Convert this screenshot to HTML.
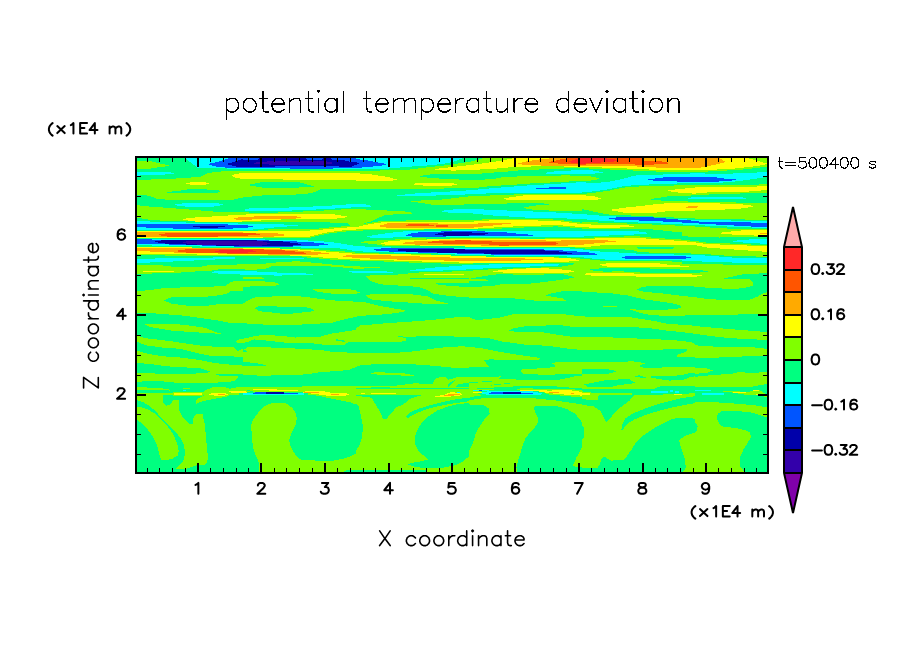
<!DOCTYPE html><html><head><meta charset="utf-8"><title>potential temperature deviation</title>
<style>html,body{margin:0;padding:0;background:#fff;font-family:"Liberation Sans",sans-serif}svg{display:block}</style></head><body>
<svg width="904" height="654" viewBox="0 0 904 654">
<rect width="904" height="654" fill="#fff"/>
<g shape-rendering="crispEdges"><clipPath id="pc"><rect x="137" y="158" width="630" height="314"/></clipPath><g clip-path="url(#pc)">
<rect x="136" y="157" width="632" height="316" fill="#00ff80"/>
<clipPath id="t1"><rect x="137" y="270" width="106" height="75"/></clipPath>
<g clip-path="url(#t1)"><rect x="137" y="270" width="106" height="75" fill="#00ff80"/>
<path fill="#80ff00" d="M137.0 291.2L148.8 290.2L161.2 288.5L180.0 287.5L196.2 287.2L215.0 288.1L225.0 286.2L230.0 282.5L236.2 281.2L243.0 280.6L243.0 287.5L236.2 288.1L231.2 288.8L228.8 293.1L221.2 295.0L205.0 296.9L171.2 297.2L163.8 300.6L171.2 303.5L186.2 305.6L208.8 305.6L216.2 304.4L243.0 303.5L243.0 322.5L227.5 322.5L215.0 320.0L195.0 317.2L180.0 315.2L161.2 314.0L151.2 313.1L137.0 312.5Z"/>
<path fill="#80ff00" d="M144.4 324.0L150.0 323.5L171.2 323.5L190.0 325.6L205.0 327.8L215.0 331.9L221.2 333.5L221.2 333.5L215.0 333.5L205.0 332.9L190.0 331.9L171.2 330.6L150.0 326.9L144.4 324.0Z"/>
<path fill="#80ff00" d="M137.0 335.6L145.0 338.1L171.2 341.2L187.5 343.8L205.0 346.2L233.8 347.5L237.5 351.0L186.2 351.0L180.0 350.0L161.2 347.5L145.0 345.0L137.0 341.9Z"/>
<path fill="#80ff00" d="M236.2 341.2L238.8 339.4L243.0 338.8L243.0 343.1L237.5 343.1Z"/>
</g>
<clipPath id="t2"><rect x="243" y="270" width="113" height="75"/></clipPath>
<g clip-path="url(#t2)"><rect x="243" y="270" width="113" height="75" fill="#00ff80"/>
<path fill="#80ff00" d="M243.0 276.9L259.2 277.2L263.6 278.5L263.6 278.5L259.2 278.8L243.0 278.8Z"/>
<path fill="#80ff00" d="M243.0 280.6L255.5 280.6L275.5 282.5L278.6 284.1L278.6 284.1L275.5 285.6L255.5 286.2L243.0 286.9Z"/>
<path fill="#80ff00" d="M312.4 289.4L318.0 288.5L333.0 288.5L349.2 289.4L356.0 289.8L356.0 294.0L349.2 294.0L333.0 293.8L318.0 291.9L312.4 289.4Z"/>
<path fill="#80ff00" d="M243.0 303.8L248.6 300.0L255.5 297.2L279.2 296.2L298.0 296.2L310.5 297.5L320.5 299.0L335.5 300.6L351.8 301.2L356.0 302.2L356.0 316.9L346.8 318.8L339.2 320.6L330.5 323.1L313.0 323.8L298.0 324.8L268.0 324.8L249.9 323.8L243.0 323.1Z"/>
<path fill="#00ff80" d="M254.9 308.1L259.2 306.2L271.8 306.2L283.0 306.9L290.5 306.9L304.2 306.9L310.5 308.1L314.2 310.2L314.2 310.2L310.5 311.9L304.2 312.2L290.5 313.8L283.0 313.8L271.8 312.5L259.2 311.2L254.9 308.1Z"/>
<path fill="#80ff00" d="M243.0 338.8L254.2 336.2L260.5 335.2L279.2 335.6L295.5 337.5L318.0 337.2L330.5 333.8L346.8 331.2L356.0 330.0L356.0 341.5L349.2 341.5L346.8 343.1L344.2 344.8L324.2 344.8L310.5 343.1L293.0 343.5L279.2 341.9L266.8 340.6L254.2 339.4L248.0 341.9L243.0 343.1Z"/>
<path fill="#00ff80" d="M336.1 339.4L343.0 339.8L346.8 342.5L341.8 341.5L336.1 340.6Z"/>
</g>
<clipPath id="t3"><rect x="356" y="270" width="113" height="75"/></clipPath>
<g clip-path="url(#t3)"><rect x="356" y="270" width="113" height="75" fill="#00ff80"/>
<path fill="#80ff00" d="M365.4 275.6L393.5 275.0L412.2 273.1L426.0 271.9L463.5 271.0L469.0 270.6L469.0 282.9L463.5 282.5L434.1 282.5L438.5 284.8L447.2 285.6L463.5 286.9L469.0 286.9L469.0 297.5L459.8 296.9L447.2 295.6L433.5 293.8L427.2 290.0L418.5 286.9L399.8 285.6L381.0 284.4L369.8 280.6Z"/>
<path fill="#00ff80" d="M409.8 278.5L412.2 278.1L469.0 278.1L469.0 279.0L412.2 279.0L409.8 278.5Z"/>
<path fill="#80ff00" d="M356.0 291.2L359.8 292.5L359.8 292.5L356.0 293.8Z"/>
<path fill="#80ff00" d="M365.4 295.6L371.0 294.4L387.2 294.4L412.2 294.4L422.2 295.6L428.5 296.5L436.0 300.6L447.9 303.5L447.9 303.5L436.0 304.4L428.5 304.4L422.2 303.5L412.2 302.8L387.2 301.2L371.0 299.4L365.4 295.6Z"/>
<path fill="#80ff00" d="M356.0 302.2L364.8 302.2L381.0 306.2L396.0 308.8L403.5 309.8L406.0 311.2L396.0 313.1L383.5 314.4L358.5 316.0L356.0 316.9Z"/>
<path fill="#80ff00" d="M356.0 328.1L361.0 325.0L374.8 324.4L387.2 323.1L412.2 321.5L431.0 320.0L453.5 317.5L469.0 316.9L469.0 336.9L453.5 336.5L431.0 336.2L423.5 336.0L411.0 336.9L396.0 336.2L406.6 338.1L406.0 340.6L399.8 342.2L379.8 342.2L356.0 341.9Z"/>
</g>
<clipPath id="t4"><rect x="469" y="270" width="113" height="75"/></clipPath>
<g clip-path="url(#t4)"><rect x="469" y="270" width="113" height="75" fill="#80ff00"/>
<path fill="#00ff80" d="M469.0 278.8L472.8 278.1L491.5 274.8L500.2 274.2L519.0 273.8L531.5 273.8L550.2 273.9L561.5 274.0L574.0 276.9L574.0 277.5L561.5 279.8L550.2 281.2L531.5 283.5L519.0 283.8L500.2 284.4L491.5 286.2L472.8 286.8L469.0 286.9Z"/>
<path fill="#80ff00" d="M469.0 279.4L485.2 279.4L489.0 280.2L489.0 280.2L485.2 281.2L469.0 281.2Z"/>
<path fill="#00ff80" d="M469.0 298.1L510.2 298.1L524.0 299.4L540.2 301.2L567.8 301.5L562.8 298.5L555.2 297.2L545.9 295.6L549.0 293.8L562.8 291.2L582.0 291.2L582.0 315.6L575.2 315.6L565.2 314.4L546.5 313.5L512.8 314.4L500.2 317.5L485.2 319.4L476.5 319.8L472.8 318.8L469.0 316.9Z"/>
<path fill="#00ff80" d="M508.4 330.6L514.0 328.1L524.0 326.5L544.0 325.6L559.0 325.0L572.8 326.9L582.0 326.9L582.0 337.2L572.8 336.9L559.0 335.0L544.0 332.5L524.0 331.9L514.0 331.5L508.4 330.6Z"/>
<path fill="#00ff80" d="M469.0 336.9L475.2 337.2L489.0 338.1L500.2 341.2L519.0 343.8L531.5 345.6L549.0 346.0L569.0 348.8L582.0 350.0L582.0 351.0L469.0 351.0Z"/>
<path fill="#80ff00" d="M469.0 346.9L481.5 348.1L489.0 350.0L490.2 351.0L469.0 351.0Z"/>
</g>
<clipPath id="t5"><rect x="582" y="270" width="113" height="75"/></clipPath>
<g clip-path="url(#t5)"><rect x="582" y="270" width="113" height="75" fill="#80ff00"/>
<path fill="#00ff80" d="M637.0 289.4L640.8 287.5L648.2 286.2L663.2 286.0L679.5 286.0L692.0 286.0L695.0 286.9L695.0 297.5L692.0 296.9L679.5 295.6L663.2 293.5L648.2 292.2L640.8 291.2L637.0 289.4Z"/>
<path fill="#00ff80" d="M582.0 291.9L597.0 292.5L613.2 293.5L628.2 295.6L644.5 299.4L663.2 301.9L673.2 303.5L680.8 305.6L682.0 307.2L674.5 309.4L652.0 309.8L630.1 309.4L638.2 312.2L647.0 314.4L659.5 315.6L683.2 315.6L695.0 315.0L695.0 326.0L689.5 325.2L667.0 323.8L657.0 321.5L644.5 319.4L629.5 317.2L589.5 316.9L582.0 316.2Z"/>
<path fill="#80ff00" d="M603.2 306.4L604.5 306.0L615.8 306.0L617.0 306.4L617.0 306.4L615.8 306.9L604.5 306.9L603.2 306.4Z"/>
<path fill="#00ff80" d="M582.0 326.9L613.2 327.0L634.5 327.2L652.0 328.5L667.0 330.6L682.0 332.2L692.0 333.1L695.0 334.0L695.0 343.8L692.0 342.5L682.0 340.9L667.0 339.8L652.0 339.1L634.5 338.4L613.2 337.5L582.0 336.9Z"/>
</g>
<clipPath id="t6"><rect x="695" y="270" width="73" height="75"/></clipPath>
<g clip-path="url(#t6)"><rect x="695" y="270" width="73" height="75" fill="#80ff00"/>
<path fill="#00ff80" d="M723.9 278.5L742.0 274.4L767.0 273.1L768.2 273.1L768.2 291.9L763.2 293.1L757.0 296.9L749.5 299.8L719.5 299.8L704.5 298.5L692.0 296.9L682.0 295.6L682.0 285.6L692.0 286.2L704.5 287.5L722.0 288.5L739.5 288.5L749.5 286.9L752.6 285.6L753.2 283.8L752.6 281.9L749.5 278.8Z"/>
<path fill="#00ff80" d="M682.0 315.6L689.5 315.5L710.8 315.0L738.2 314.5L757.0 314.0L768.2 313.8L768.2 332.5L757.0 331.2L738.2 329.8L710.8 327.5L689.5 325.6L682.0 325.0Z"/>
<path fill="#00ff80" d="M695.0 333.8L702.0 334.8L710.8 336.0L724.5 337.5L740.8 338.8L749.5 339.2L768.2 340.0L768.2 349.0L749.5 348.1L740.8 347.2L724.5 346.5L710.8 346.2L702.0 346.0L695.0 344.8Z"/>
</g>
<clipPath id="t7"><rect x="137" y="345" width="106" height="50"/></clipPath>
<g clip-path="url(#t7)"><rect x="137" y="345" width="106" height="50" fill="#80ff00"/>
<path fill="#00ff80" d="M137.0 341.9L147.5 345.6L162.5 347.5L180.0 348.8L190.0 351.2L200.0 353.8L210.0 355.6L227.5 356.2L243.0 356.9L243.0 365.6L227.5 364.4L215.0 363.1L200.0 360.0L180.0 357.5L161.2 356.2L145.0 353.1L137.0 350.6Z"/>
<path fill="#00ff80" d="M180.0 340.0L187.5 343.8L205.0 346.2L233.8 347.5L237.5 351.0L243.0 348.8L243.0 340.0Z"/>
<path fill="#00ff80" d="M137.0 363.1L148.8 363.8L161.2 365.6L173.8 366.9L200.0 368.1L211.2 371.9L211.2 372.2L192.5 373.8L173.8 374.0L155.0 373.5L137.0 373.1Z"/>
<path fill="#00ff80" d="M215.0 374.8L220.0 373.8L243.0 373.8L243.0 375.6L220.0 375.6L215.0 374.8Z"/>
<path fill="#00ff80" d="M137.0 381.9L155.0 380.6L173.8 382.5L192.5 383.1L217.5 382.5L230.0 381.9L236.2 380.0L238.8 375.6L243.0 375.6L243.0 386.9L237.5 387.2L230.0 388.8L225.0 387.2L212.5 387.2L205.0 390.6L201.9 393.1L173.8 393.1L167.5 388.8L137.0 386.9Z"/>
<path fill="#00ff80" d="M137.0 390.0L167.5 390.0L173.8 393.1L146.2 393.5L137.0 393.1Z"/>
<path fill="#80ff00" d="M183.1 388.5L185.0 388.1L190.0 388.1L190.0 389.0L185.0 389.0L183.1 388.5Z"/>
</g>
<clipPath id="t8"><rect x="243" y="345" width="113" height="50"/></clipPath>
<g clip-path="url(#t8)"><rect x="243" y="345" width="113" height="50" fill="#00ff80"/>
<path fill="#80ff00" d="M243.0 351.9L248.6 352.5L244.2 349.4L248.0 346.9L263.0 347.2L295.5 348.5L320.5 350.0L330.5 351.5L346.8 352.5L356.0 353.1L356.0 366.9L349.2 370.0L320.5 372.2L305.5 374.4L284.2 375.4L260.5 375.6L243.0 375.2L243.0 366.2L250.5 366.2L261.8 366.0L266.1 365.6L261.8 364.0L250.5 362.5L243.0 361.9Z"/>
<path fill="#80ff00" d="M243.0 386.9L349.2 386.2L356.0 385.6L356.0 403.1L349.2 401.2L338.0 398.8L323.0 396.9L313.0 395.0L303.0 395.0L298.0 391.5L253.0 390.2L243.0 390.2Z"/>
</g>
<clipPath id="t9"><rect x="356" y="345" width="113" height="50"/></clipPath>
<g clip-path="url(#t9)"><rect x="356" y="345" width="113" height="50" fill="#00ff80"/>
<path fill="#80ff00" d="M356.0 352.5L399.8 352.5L416.0 351.2L431.0 348.8L443.5 347.5L462.2 346.2L469.0 346.9L469.0 368.1L451.0 367.5L431.0 365.6L414.8 364.4L378.5 364.1L361.0 365.0L356.0 366.9Z"/>
<path fill="#80ff00" d="M371.0 373.5L374.8 372.2L403.5 373.1L414.8 375.6L414.8 375.6L403.5 375.6L374.8 374.4L371.0 373.5Z"/>
<path fill="#80ff00" d="M356.0 386.2L387.2 386.0L389.8 386.5L389.8 387.0L387.2 387.2L356.0 387.8Z"/>
<path fill="#80ff00" d="M389.8 386.5L406.0 384.4L416.0 383.1L426.0 384.4L432.2 384.4L435.4 378.8L439.8 377.2L446.0 377.5L448.5 379.8L456.0 377.5L469.0 377.2L469.0 383.1L458.5 383.8L456.0 386.5L469.0 386.9L469.0 388.5L389.8 387.5Z"/>
<path fill="#00ff80" d="M447.2 386.2L449.1 383.1L454.8 379.8L455.4 380.6L451.0 385.0L449.1 386.9Z"/>
<path fill="#80ff00" d="M356.0 389.4L423.5 389.4L469.0 389.0L469.0 400.0L423.5 395.6L356.0 395.6Z"/>
</g>
<clipPath id="t10"><rect x="469" y="345" width="113" height="50"/></clipPath>
<g clip-path="url(#t10)"><rect x="469" y="345" width="113" height="50" fill="#00ff80"/>
<path fill="#80ff00" d="M499.0 340.0L525.2 343.8L556.5 346.9L569.0 348.8L582.0 350.0L582.0 340.0Z"/>
<path fill="#80ff00" d="M469.0 346.9L481.5 348.1L500.2 351.9L519.0 355.0L540.9 358.1L539.0 359.8L519.0 360.0L489.0 359.4L484.0 360.6L489.0 366.5L469.0 366.9Z"/>
<path fill="#80ff00" d="M520.2 370.0L522.8 369.4L544.0 368.1L555.2 366.9L555.2 365.0L551.5 363.1L556.5 362.2L582.0 362.2L582.0 374.4L559.0 374.4L544.0 374.8L522.8 373.8Z"/>
<path fill="#80ff00" d="M469.0 377.5L497.8 376.9L501.5 376.0L499.0 378.8L515.2 378.5L516.5 380.0L556.5 380.0L564.0 378.8L575.2 376.2L582.0 375.6L582.0 387.5L569.0 387.5L556.5 386.5L519.0 386.2L494.0 387.5L469.0 388.1Z"/>
<path fill="#00ff80" d="M469.0 382.2L491.5 381.0L491.5 381.8L469.0 383.0Z"/>
<path fill="#00ff80" d="M491.5 384.8L510.2 382.9L510.2 383.6L491.5 385.5Z"/>
<path fill="#80ff00" d="M469.0 388.1L487.8 389.0L500.2 390.0L489.0 393.1L481.5 395.0L469.0 395.0Z"/>
</g>
<clipPath id="t11"><rect x="582" y="345" width="113" height="50"/></clipPath>
<g clip-path="url(#t11)"><rect x="582" y="345" width="113" height="50" fill="#80ff00"/>
<path fill="#00ff80" d="M582.0 349.8L663.2 349.8L663.2 349.0L687.0 349.0L687.0 351.2L677.0 355.0L677.0 356.9L695.0 357.5L695.0 367.2L674.5 366.9L649.5 368.1L639.5 367.2L639.5 365.0L645.8 363.8L644.5 363.1L632.0 361.2L622.0 361.9L582.0 362.2Z"/>
<path fill="#00ff80" d="M582.0 369.4L587.0 369.0L608.2 369.4L617.0 371.2L617.0 371.2L608.2 373.8L587.0 374.4L582.0 374.4Z"/>
<path fill="#00ff80" d="M635.1 376.5L639.5 375.2L647.6 378.1L647.6 378.1L639.5 377.5L635.1 376.5Z"/>
<path fill="#00ff80" d="M648.9 376.9L657.0 375.6L669.5 376.2L682.0 375.0L689.5 373.1L695.0 372.8L695.0 376.2L689.5 377.5L682.0 380.0L669.5 380.6L657.0 378.8L648.9 376.9Z"/>
<path fill="#00ff80" d="M583.9 384.4L594.5 382.5L603.2 380.6L619.5 379.4L629.5 379.4L635.8 383.1L619.5 385.0L613.2 386.5L587.6 386.9Z"/>
<path fill="#00ff80" d="M582.0 389.0L654.5 388.8L659.5 386.5L695.0 386.2L695.0 393.1L682.0 394.0L644.5 395.0L632.0 396.9L632.0 393.1L582.0 393.1Z"/>
</g>
<clipPath id="t12"><rect x="695" y="345" width="73" height="50"/></clipPath>
<g clip-path="url(#t12)"><rect x="695" y="345" width="73" height="50" fill="#00ff80"/>
<path fill="#80ff00" d="M682.0 341.2L688.2 341.9L698.2 345.6L719.5 346.9L749.5 346.9L768.2 349.0L768.2 355.6L749.5 356.2L719.5 357.5L689.5 357.5L682.0 356.9Z"/>
<path fill="#80ff00" d="M682.0 368.1L707.0 368.5L713.2 370.4L713.2 370.4L707.0 372.8L682.0 375.0Z"/>
<path fill="#80ff00" d="M682.0 380.6L694.5 376.9L713.2 375.0L732.0 373.8L738.2 372.2L750.8 372.8L768.2 372.2L768.2 383.8L757.0 385.6L749.5 387.2L719.5 386.9L682.0 386.9Z"/>
<path fill="#80ff00" d="M710.8 392.2L732.0 391.0L747.0 391.9L759.5 390.0L768.2 395.6L768.2 397.5L759.5 396.2L747.0 395.0L732.0 392.5L710.8 392.2Z"/>
</g>
<clipPath id="t13"><rect x="137" y="395" width="106" height="78"/></clipPath>
<g clip-path="url(#t13)"><rect x="137" y="395" width="106" height="78" fill="#00ff80"/>
<path fill="#80ff00" d="M137.0 406.9L142.5 407.5L148.8 410.0L155.0 413.8L161.2 420.0L167.5 426.2L173.8 435.0L177.5 445.0L178.8 451.2L177.5 455.6L171.2 459.4L161.2 460.0L159.4 455.0L156.9 445.0L152.5 436.2L146.2 427.5L140.0 421.9L137.0 420.0Z"/>
<path fill="#80ff00" d="M137.0 395.0L162.5 395.0L163.1 402.5L166.2 405.6L170.0 405.0L173.1 400.0L178.8 400.0L179.4 411.2L183.8 418.8L188.8 423.8L192.5 423.8L193.8 416.9L196.2 414.4L202.5 414.4L204.4 422.5L205.6 432.5L206.9 447.5L208.1 457.5L206.2 464.4L197.5 465.0L186.2 468.8L176.2 468.8L180.0 465.0L183.8 460.0L185.0 452.5L183.8 445.0L180.0 437.5L173.8 430.0L167.5 423.8L161.2 417.5L155.0 410.6L148.8 405.6L142.5 401.9L137.0 400.0Z"/>
<path fill="#80ff00" d="M196.2 403.8L196.2 400.0L200.0 397.5L205.0 395.0L227.5 395.0L225.0 396.9L211.2 399.4L200.0 401.9Z"/>
<path fill="#80ff00" d="M180.0 395.0L191.2 395.0L191.2 396.0L180.0 396.0Z"/>
</g>
<clipPath id="t14"><rect x="243" y="395" width="113" height="78"/></clipPath>
<g clip-path="url(#t14)"><rect x="243" y="395" width="113" height="78" fill="#00ff80"/>
<path fill="#80ff00" d="M251.1 425.0L253.0 420.0L259.2 411.2L265.5 405.6L271.8 403.1L285.5 403.1L291.8 407.5L295.5 412.5L296.8 418.8L295.5 425.0L291.8 432.5L289.2 440.0L289.9 445.0L293.0 451.2L296.8 456.9L301.8 460.0L318.0 460.6L333.0 460.6L343.0 458.8L350.5 456.2L356.0 453.8L356.0 473.8L259.2 473.8L259.2 463.1L255.5 455.0L253.0 447.5L251.8 436.2Z"/>
<path fill="#00ff80" d="M344.2 470.6L356.0 469.8L356.0 473.8L344.2 473.8Z"/>
<path fill="#80ff00" d="M316.8 395.0L323.0 396.9L338.0 400.0L350.5 402.5L356.0 404.4L356.0 395.0Z"/>
</g>
<clipPath id="t15"><rect x="356" y="395" width="113" height="78"/></clipPath>
<g clip-path="url(#t15)"><rect x="356" y="395" width="113" height="78" fill="#80ff00"/>
<path fill="#00ff80" d="M356.0 403.8L358.5 406.2L361.0 416.2L362.9 426.2L362.2 436.2L359.8 445.0L356.0 450.6Z"/>
<path fill="#00ff80" d="M356.0 395.0L356.0 396.2L368.5 396.9L372.2 398.8L376.0 405.0L381.0 413.8L382.9 418.8L386.0 419.4L389.8 415.0L396.0 407.5L403.5 404.4L409.8 398.8L418.5 396.2L423.5 395.0Z"/>
<path fill="#00ff80" d="M406.0 416.2L409.8 412.5L418.5 408.8L431.0 405.0L443.5 401.9L456.0 399.4L469.0 397.5L469.0 401.2L451.0 403.8L438.5 406.2L426.0 409.4L414.8 413.8L407.9 418.1Z"/>
<path fill="#00ff80" d="M414.8 438.8L416.0 432.5L421.0 423.8L428.5 416.2L437.2 410.6L448.5 406.2L459.8 403.8L469.0 403.1L469.0 456.2L463.5 461.2L456.0 465.0L443.5 467.5L426.0 468.1L414.8 466.9L407.9 464.4L411.0 463.1L422.2 461.2L427.9 459.4L426.0 456.9L421.0 453.8L417.2 448.8L414.8 443.8Z"/>
<path fill="#00ff80" d="M356.0 469.8L426.0 469.8L426.0 473.8L356.0 473.8Z"/>
</g>
<clipPath id="t16"><rect x="469" y="395" width="113" height="78"/></clipPath>
<g clip-path="url(#t16)"><rect x="469" y="395" width="113" height="78" fill="#80ff00"/>
<path fill="#00ff80" d="M469.0 397.8L476.5 396.0L485.2 395.0L582.0 395.0L582.0 404.4L569.0 402.5L556.5 400.6L531.5 398.1L487.8 398.1L476.5 398.8L469.0 400.6Z"/>
<path fill="#00ff80" d="M469.0 404.4L485.2 405.6L489.0 408.8L489.6 413.8L484.0 420.0L479.0 427.5L475.2 435.0L472.8 443.8L469.0 451.2Z"/>
<path fill="#00ff80" d="M534.0 407.5L535.2 406.2L556.5 406.2L566.5 408.8L575.2 413.8L580.2 420.0L582.0 422.5L582.0 447.5L576.5 457.5L572.8 465.0L575.2 466.9L582.0 467.5L582.0 473.8L517.1 473.8L516.5 467.5L517.8 461.2L520.2 453.8L522.8 445.0L525.2 438.8L529.0 433.8L534.0 428.8L537.8 422.5L537.8 417.5L535.2 412.5Z"/>
</g>
<clipPath id="t17"><rect x="582" y="395" width="113" height="78"/></clipPath>
<g clip-path="url(#t17)"><rect x="582" y="395" width="113" height="78" fill="#80ff00"/>
<path fill="#00ff80" d="M582.0 399.4L597.6 399.8L598.9 395.0L634.5 395.0L632.0 397.5L629.5 400.6L622.0 406.2L615.8 411.2L610.8 417.5L606.4 422.5L603.9 417.5L600.8 411.2L593.2 406.2L582.0 405.0Z"/>
<path fill="#00ff80" d="M621.4 430.0L622.0 425.0L625.1 418.8L632.0 413.8L644.5 408.8L657.0 404.4L669.5 401.2L682.0 398.1L695.0 396.2L695.0 403.1L684.5 405.0L672.0 407.5L659.5 410.6L647.0 414.4L634.5 419.4L627.0 423.8L623.2 429.4Z"/>
<path fill="#00ff80" d="M695.0 418.8L688.2 417.5L677.0 418.1L669.5 420.0L659.5 425.0L649.5 431.2L642.0 436.2L637.0 441.2L632.0 448.8L627.0 456.2L623.2 460.0L610.8 460.6L604.5 456.9L602.0 458.1L599.5 465.0L597.6 467.5L582.0 468.1L582.0 473.8L682.0 473.8L685.8 467.5L684.5 457.5L680.8 447.5L678.9 440.0L684.5 436.2L695.0 432.5Z"/>
<path fill="#00ff80" d="M582.0 425.0L583.9 427.5L583.9 437.5L582.0 440.0Z"/>
</g>
<clipPath id="t18"><rect x="695" y="395" width="73" height="78"/></clipPath>
<g clip-path="url(#t18)"><rect x="695" y="395" width="73" height="78" fill="#00ff80"/>
<path fill="#80ff00" d="M682.0 405.0L689.5 403.1L700.8 401.9L719.5 402.5L738.2 403.8L757.0 405.6L768.2 407.5L768.2 418.1L759.5 415.0L749.5 411.9L732.0 411.0L722.0 411.0L717.6 413.8L717.0 418.8L719.5 424.4L723.2 426.9L734.5 427.8L744.5 430.0L750.1 432.5L750.8 437.5L747.0 443.8L743.2 450.0L740.1 457.5L739.5 465.0L742.0 468.8L745.8 473.8L682.0 473.8L682.0 470.0L684.5 467.5L685.1 462.5L683.9 456.2L682.0 452.5L682.0 436.2L692.0 433.8L697.0 431.2L697.6 426.2L694.5 421.2L689.5 418.1L682.0 416.9Z"/>
<path fill="#80ff00" d="M757.0 395.0L768.2 395.0L768.2 397.5Z"/>
</g>
<path fill="#80ff00" d="M137.0 160.6L148.8 160.6L161.2 163.8L168.8 165.2L168.8 166.1L161.2 166.9L148.8 168.8L137.0 168.8ZM137.0 180.0L148.8 179.6L158.8 179.2L171.2 178.8L200.0 176.9L207.5 173.1L225.0 171.0L232.5 170.6L243.1 170.8L259.2 171.0L299.2 171.0L311.8 171.0L320.5 171.0L355.9 170.8L374.8 170.6L406.0 170.0L426.0 167.5L443.5 165.6L468.9 162.0L479.0 159.4L484.0 158.0L489.0 158.0L519.0 158.0L535.2 158.0L581.9 158.0L594.5 158.0L600.1 158.0L607.0 158.0L634.5 158.0L694.9 158.0L732.0 158.0L750.8 158.0L767.0 158.0L767.0 166.9L750.8 168.8L732.0 170.6L694.9 172.8L634.5 173.1L607.0 175.0L600.1 178.8L594.5 180.2L581.9 181.2L535.2 183.1L519.0 184.4L489.0 186.2L484.0 186.9L479.0 187.5L468.9 187.5L443.5 188.5L426.0 189.0L406.0 189.4L374.8 189.4L355.9 188.6L320.5 189.4L311.8 193.1L299.2 194.4L259.2 195.6L243.1 197.5L232.5 199.8L225.0 199.8L207.5 199.8L200.0 199.8L171.2 199.6L158.8 199.4L148.8 195.6L137.0 195.0ZM137.0 205.0L145.0 206.2L158.8 207.2L180.0 208.8L195.0 210.0L217.5 211.9L236.2 212.5L242.9 212.1L280.5 211.9L310.5 211.2L330.5 210.0L346.8 208.1L350.5 207.5L355.9 208.4L370.4 210.0L384.8 210.4L403.5 211.2L411.6 212.7L411.6 213.6L403.5 213.8L384.8 215.0L370.4 221.6L355.9 226.1L350.5 226.2L346.8 222.8L330.5 222.5L310.5 222.1L280.5 221.9L242.9 222.8L236.2 223.0L217.5 223.0L195.0 222.8L180.0 222.2L158.8 221.5L145.0 219.0L137.0 217.5ZM411.0 200.8L418.5 200.6L433.5 200.0L443.5 199.4L468.9 196.4L506.5 194.8L516.5 194.4L544.0 194.0L551.5 193.8L581.9 193.1L607.0 190.6L623.2 187.5L644.5 186.2L669.5 185.6L694.9 185.0L719.5 185.0L767.0 184.4L767.0 220.0L719.5 219.0L694.9 218.8L669.5 217.5L644.5 216.0L623.2 215.2L607.0 214.4L581.9 209.1L551.5 205.0L544.0 203.5L516.5 203.1L506.5 203.5L468.9 204.4L443.5 205.0L433.5 205.0L418.5 202.5L411.0 201.7ZM524.0 207.3L534.0 205.6L551.5 204.8L581.9 204.8L581.9 211.2L551.5 210.6L534.0 209.8L524.0 208.2ZM361.0 241.8L374.8 240.6L388.5 240.0L406.0 239.4L406.0 245.8L388.5 245.2L374.8 244.4L361.0 242.7ZM137.0 265.0L167.5 265.6L172.5 266.9L200.0 266.9L210.0 265.0L242.9 264.4L259.2 263.8L265.5 263.5L271.8 262.8L280.5 262.2L296.8 261.2L318.0 263.1L336.8 265.0L355.9 266.4L379.8 267.1L379.8 267.9L355.9 268.8L336.8 266.9L318.0 265.6L296.8 265.6L280.5 266.0L271.8 266.2L265.5 268.8L259.2 269.4L242.9 270.1L210.0 270.8L200.0 271.2L172.5 273.1L167.5 273.2L137.0 273.8ZM469.0 270.6L494.0 268.1L519.0 267.2L556.5 266.9L572.8 265.0L579.0 256.2L582.0 244.0L695.0 243.0L732.0 247.0L768.0 249.0L768.0 271.0L469.0 271.0ZM582.0 221.9L613.2 223.1L652.0 224.0L682.0 225.2L694.9 226.0L694.9 235.6L682.0 232.5L652.0 229.4L613.2 229.4L582.0 229.4ZM682.0 225.6L700.8 226.9L719.5 228.1L732.0 228.8L767.0 228.8L767.0 236.9L732.0 236.9L719.5 237.5L700.8 237.2L682.0 236.2ZM243.0 276.9L259.2 277.2L263.6 277.7L263.6 278.6L259.2 279.0L243.0 279.0ZM243.0 280.6L255.5 280.6L275.5 282.5L278.6 283.9L278.6 284.8L275.5 285.6L255.5 286.2L243.0 286.5ZM148.8 290.0L167.5 288.1L200.0 286.9L225.0 286.2L226.2 285.6L233.8 281.2L242.9 280.6L242.9 291.0L233.8 291.0L226.2 291.0L225.0 291.0L200.0 291.0L167.5 291.0L148.8 291.0ZM146.2 393.8L173.8 393.8L173.8 394.7L146.2 394.7Z"/>
<path fill="#00ff80" d="M166.9 192.1L180.0 190.6L190.0 189.0L217.5 189.8L220.0 190.8L220.0 191.7L217.5 192.5L190.0 193.1L180.0 193.1L166.9 192.9ZM249.2 184.6L261.8 182.2L299.2 182.2L313.6 186.4L313.6 187.3L299.2 187.5L261.8 187.5L249.2 185.4ZM420.4 175.8L431.0 174.4L468.9 174.4L476.5 174.0L494.0 172.5L504.0 171.9L516.5 170.6L531.5 169.8L556.5 168.8L575.2 168.1L581.9 168.1L594.5 168.8L600.1 169.0L607.0 169.4L623.2 170.0L634.5 170.6L644.5 171.2L669.5 171.9L694.9 172.2L719.5 170.9L744.5 169.6L767.0 166.5L767.0 172.1L744.5 173.4L719.5 174.0L694.9 173.8L669.5 174.8L644.5 175.6L634.5 176.2L623.2 179.4L607.0 182.5L600.1 178.8L594.5 176.9L581.9 175.3L575.2 175.2L556.5 175.6L531.5 176.2L516.5 176.5L504.0 176.9L494.0 179.0L476.5 180.0L468.9 180.0L431.0 178.1L420.4 176.7ZM651.4 198.9L669.5 196.2L694.9 195.4L719.5 193.8L767.0 193.1L767.0 202.5L719.5 202.5L694.9 202.5L669.5 201.2L651.4 199.8ZM582.0 248.8L594.5 248.8L613.2 249.0L632.0 249.8L640.8 253.1L640.8 254.0L632.0 253.8L613.2 252.5L594.5 251.5L582.0 250.2ZM637.0 247.3L639.5 246.9L672.0 246.9L673.9 247.3L673.9 248.2L672.0 248.8L639.5 248.8L637.0 248.2ZM590.1 269.3L607.0 267.8L638.2 268.1L694.9 270.0L707.6 270.8L707.6 271.7L694.9 273.0L638.2 272.5L607.0 271.9L590.1 270.2ZM682.0 260.0L707.0 261.5L732.0 262.2L767.0 262.9L767.0 265.4L732.0 264.8L707.0 264.0L682.0 263.5Z"/>
<path fill="#80ff00" d="M181.2 183.5L186.2 181.7L192.5 180.8L205.0 180.8L208.8 181.7L213.8 183.5L213.8 183.5L208.8 185.3L205.0 186.2L192.5 186.2L186.2 185.3L181.2 183.5ZM226.9 175.6L231.9 173.8L236.2 172.3L242.9 171.7L330.5 171.7L333.0 171.7L355.9 171.8L371.0 173.0L387.2 175.5L396.6 177.9L401.6 179.8L401.6 179.8L396.6 181.6L387.2 182.4L371.0 182.9L355.9 181.9L333.0 181.0L330.5 181.4L242.9 180.5L236.2 179.2L231.9 177.5L226.9 175.6ZM408.5 184.0L413.5 182.2L423.5 181.3L448.5 181.3L456.6 182.5L461.6 184.4L461.6 184.4L456.6 186.2L448.5 187.4L423.5 187.0L413.5 185.8L408.5 184.0ZM430.4 169.4L435.4 167.5L453.5 165.5L468.9 163.8L494.0 160.5L515.2 156.6L550.2 156.6L575.2 156.6L581.9 156.6L619.5 156.6L644.5 156.6L694.9 156.6L707.0 156.6L732.0 156.6L747.0 156.6L757.0 159.2L763.2 161.1L767.0 161.7L767.0 165.4L763.2 166.4L757.0 167.4L747.0 168.7L732.0 170.2L707.0 171.4L694.9 171.9L644.5 170.8L619.5 169.5L581.9 168.2L575.2 168.3L550.2 167.4L515.2 168.3L494.0 170.2L468.9 171.5L453.5 172.0L435.4 171.2L430.4 169.4ZM498.4 199.0L503.4 197.2L512.8 195.5L525.2 193.8L581.9 193.6L594.5 195.1L600.8 196.9L605.8 198.8L605.8 198.8L600.8 200.6L594.5 201.2L581.9 201.4L525.2 201.4L512.8 201.2L503.4 200.8L498.4 199.0ZM663.2 190.6L668.2 188.8L682.0 187.3L694.9 186.1L707.0 185.5L744.5 185.5L767.0 184.8L767.0 191.4L744.5 193.3L707.0 193.9L694.9 195.0L682.0 194.5L668.2 192.5L663.2 190.6ZM606.4 210.0L611.4 208.2L623.2 206.3L644.5 204.2L657.0 202.6L673.0 201.3L694.9 201.6L719.5 202.1L739.5 202.6L753.2 204.4L758.2 206.2L758.2 206.2L753.2 208.1L739.5 210.2L719.5 211.2L694.9 211.9L673.0 211.9L657.0 213.9L644.5 214.7L623.2 213.9L611.4 211.8L606.4 210.0ZM137.0 229.2L242.9 229.7L284.2 229.2L308.0 229.2L318.0 228.6L330.5 227.3L346.8 226.1L355.9 225.7L368.5 223.0L381.0 221.1L406.0 220.5L468.9 220.3L494.0 218.8L519.0 218.6L556.5 219.6L569.0 221.1L581.9 222.7L597.0 223.3L619.5 223.6L633.9 224.4L638.9 226.2L638.9 226.2L633.9 228.1L619.5 228.9L597.0 229.5L581.9 228.4L569.0 227.4L556.5 226.4L519.0 227.7L494.0 228.9L468.9 230.5L406.0 230.4L381.0 230.2L368.5 230.2L355.9 230.9L346.8 231.4L330.5 233.3L318.0 235.8L308.0 238.3L284.2 238.3L242.9 239.5L137.0 239.5ZM137.0 245.1L155.0 245.5L192.5 246.1L217.5 246.7L242.9 246.5L280.5 247.1L305.5 248.3L330.5 250.5L355.9 252.3L381.0 252.6L406.0 253.0L443.5 253.8L468.9 254.8L506.5 255.5L544.0 255.7L569.0 256.7L579.0 258.8L584.0 260.6L584.0 260.6L579.0 262.5L569.0 262.9L544.0 263.9L506.5 264.5L468.9 264.1L443.5 263.6L406.0 262.4L381.0 261.4L355.9 260.8L330.5 259.5L305.5 257.4L280.5 256.6L242.9 256.4L217.5 256.4L192.5 255.8L155.0 255.4L137.0 255.2ZM376.0 243.5L381.0 241.7L388.5 240.1L406.0 238.6L468.9 237.1L581.9 237.3L594.5 237.1L603.2 236.8L638.2 236.3L657.0 238.0L682.0 239.6L694.9 241.0L707.0 242.6L732.0 243.6L767.0 244.8L767.0 253.3L732.0 250.8L707.0 248.9L694.9 246.5L682.0 246.3L657.0 246.4L638.2 246.4L603.2 246.7L594.5 247.7L581.9 248.7L468.9 248.0L406.0 246.7L388.5 246.4L381.0 245.3L376.0 243.5ZM138.1 271.5L143.1 269.7L145.0 269.6L172.5 269.6L173.8 269.7L178.8 271.5L178.8 271.5L173.8 273.3L172.5 273.4L145.0 273.4L143.1 273.3L138.1 271.5ZM418.5 274.4L423.5 272.5L426.0 272.4L461.0 272.4L463.5 272.5L468.5 274.4L468.5 274.4L463.5 276.2L461.0 276.4L426.0 276.4L423.5 276.2L418.5 274.4ZM487.8 271.5L492.8 269.7L512.8 267.4L544.0 266.7L569.0 268.6L574.0 269.7L579.0 271.5L579.0 271.5L574.0 273.3L569.0 273.9L544.0 274.5L512.8 274.5L492.8 273.3L487.8 271.5ZM595.1 264.8L600.1 262.9L609.5 261.7L657.0 261.7L669.5 263.4L688.9 264.7L693.9 266.5L693.9 266.5L688.9 268.3L669.5 268.3L657.0 268.3L609.5 268.3L600.1 266.6L595.1 264.8ZM578.9 274.0L583.9 272.2L594.5 271.7L622.0 271.4L642.0 272.6L689.5 272.6L694.9 273.6L702.0 273.4L707.0 275.2L707.0 275.2L702.0 277.1L694.9 278.3L689.5 278.3L642.0 278.3L622.0 277.0L594.5 277.4L583.9 275.8L578.9 274.0ZM715.8 233.1L720.8 231.3L738.2 229.2L757.0 228.6L767.0 228.6L767.0 237.0L757.0 237.0L738.2 236.4L720.8 235.0L715.8 233.1ZM677.0 266.6L682.0 264.6L687.0 264.6L688.9 264.8L693.9 266.6L693.9 266.6L688.9 268.5L687.0 268.6L682.0 268.6L677.0 266.6ZM178.1 219.4L183.1 217.5L195.0 216.1L217.5 214.8L236.2 213.6L242.9 213.2L280.5 212.1L330.5 212.3L346.8 215.0L351.8 216.9L351.8 216.9L346.8 218.7L330.5 220.8L280.5 220.9L242.9 222.8L236.2 223.9L217.5 223.7L195.0 222.9L183.1 221.2L178.1 219.4ZM168.8 394.0L173.8 392.2L176.2 391.7L200.0 391.7L201.9 392.2L206.9 394.0L206.9 394.0L201.9 395.8L200.0 396.4L176.2 396.4L173.8 395.8L168.8 394.0ZM203.8 394.4L208.8 392.5L215.0 391.1L223.8 391.1L227.5 392.5L232.5 394.4L232.5 394.4L227.5 396.2L223.8 397.4L215.0 397.0L208.8 396.2L203.8 394.4ZM223.8 391.5L228.8 389.7L231.2 389.2L242.9 389.5L246.8 390.3L251.8 392.2L251.8 392.2L246.8 394.0L242.9 393.9L231.2 393.9L228.8 393.3L223.8 391.5ZM248.0 389.6L253.0 387.8L255.5 387.6L298.0 388.6L303.0 390.6L303.0 390.6L298.0 392.6L255.5 391.6L253.0 391.5L248.0 389.6ZM298.0 392.2L303.0 390.4L308.0 389.9L323.0 389.9L330.5 391.1L343.0 391.1L349.2 392.5L354.2 394.4L354.2 394.4L349.2 396.2L343.0 397.4L330.5 397.6L323.0 396.4L308.0 394.5L303.0 394.1L298.0 392.2ZM429.8 396.5L434.8 394.7L443.5 393.6L451.0 390.5L459.8 391.7L462.2 392.5L467.2 394.4L467.2 394.4L462.2 396.2L459.8 397.0L451.0 397.9L443.5 398.3L434.8 398.3L429.8 396.5ZM515.2 390.2L520.2 388.4L525.2 388.4L539.0 388.6L549.0 389.2L569.0 388.6L581.9 390.5L586.9 393.8L586.9 393.8L581.9 397.0L569.0 396.4L549.0 394.5L539.0 392.9L525.2 392.4L520.2 392.1L515.2 390.2ZM577.0 393.9L582.0 391.7L590.1 392.1L595.1 394.0L595.1 394.0L590.1 395.9L582.0 396.1L577.0 393.9Z"/>
<path fill="#00ff80" d="M137.0 171.1L155.0 170.8L167.5 170.5L173.8 171.7L178.8 173.5L178.8 173.5L173.8 175.3L167.5 175.8L155.0 176.4L137.0 177.0ZM180.6 158.0L185.6 156.2L190.0 156.6L197.5 156.6L207.5 156.6L242.9 156.6L355.9 156.6L386.0 156.6L406.0 156.6L426.0 156.6L443.5 156.6L453.5 156.6L462.2 156.2L467.2 158.0L467.2 158.0L462.2 159.8L453.5 163.3L443.5 165.2L426.0 167.0L406.0 168.3L386.0 170.2L355.9 170.6L242.9 170.5L207.5 169.2L197.5 168.9L190.0 163.3L185.6 159.8L180.6 158.0ZM170.0 204.8L175.0 202.9L185.0 201.7L212.5 201.3L223.1 202.5L228.1 204.4L228.1 204.4L223.1 206.2L212.5 208.3L185.0 207.9L175.0 206.6L170.0 204.8ZM239.2 210.0L244.2 208.2L250.5 206.7L273.0 206.7L305.5 205.5L330.5 204.2L355.9 202.3L366.0 203.0L371.0 204.4L376.0 206.2L376.0 206.2L371.0 208.1L366.0 208.3L355.9 208.6L330.5 210.2L305.5 211.4L273.0 212.7L250.5 212.7L244.2 211.8L239.2 210.0ZM391.0 196.0L396.0 194.2L406.0 193.0L418.5 191.7L443.5 190.5L468.9 188.9L494.0 186.7L525.2 184.2L556.5 182.3L581.9 180.7L589.5 181.3L594.5 181.7L608.2 180.5L623.2 177.3L634.5 174.2L644.5 173.6L657.0 173.2L669.5 173.0L694.9 171.9L719.5 172.3L738.2 172.0L750.8 171.5L767.0 170.5L767.0 178.3L750.8 180.8L738.2 182.7L719.5 184.2L694.9 184.2L669.5 185.2L657.0 185.4L644.5 186.2L634.5 186.7L623.2 187.7L608.2 190.8L594.5 192.7L589.5 193.3L581.9 193.9L556.5 193.9L525.2 193.9L494.0 194.5L468.9 195.8L443.5 196.7L418.5 197.7L406.0 197.9L396.0 197.8L391.0 196.0ZM540.9 173.1L545.9 171.3L556.5 169.8L581.9 168.6L594.5 169.2L602.6 170.7L607.6 172.5L607.6 172.5L602.6 174.3L594.5 174.9L581.9 175.6L556.5 175.4L545.9 175.0L540.9 173.1ZM436.6 211.2L441.6 209.4L453.5 208.0L468.9 207.3L494.0 208.6L525.2 209.8L556.5 211.1L581.9 212.7L607.0 214.8L644.5 216.1L694.9 218.5L719.5 218.8L767.0 220.1L767.0 229.5L719.5 227.7L694.9 226.4L644.5 224.2L607.0 222.7L581.9 220.5L556.5 219.5L525.2 218.9L494.0 217.0L468.9 214.5L453.5 214.5L441.6 213.1L436.6 211.2ZM683.2 198.1L688.2 196.3L694.5 195.8L738.2 195.8L745.8 196.3L750.8 198.1L750.8 198.1L745.8 200.0L738.2 200.4L694.5 200.4L688.2 200.0L683.2 198.1ZM137.0 219.6L167.5 220.8L186.2 221.1L242.9 222.2L255.5 222.3L274.2 222.6L290.5 223.3L298.0 223.8L303.0 225.6L303.0 225.6L298.0 227.5L290.5 227.7L274.2 228.9L255.5 230.8L242.9 231.4L186.2 231.4L167.5 231.4L137.0 231.4ZM137.0 237.3L242.9 237.8L300.5 238.6L318.0 239.8L330.5 240.5L343.0 242.3L355.9 244.5L374.8 245.8L406.0 246.3L431.0 246.3L468.9 246.1L531.5 246.1L556.5 246.1L581.9 248.0L594.5 249.8L613.2 250.8L640.8 252.3L669.5 253.0L694.9 253.6L707.0 254.2L732.0 256.1L767.0 256.7L767.0 264.5L732.0 263.9L707.0 263.3L694.9 262.4L669.5 261.4L640.8 261.4L613.2 261.4L594.5 260.1L581.9 258.6L556.5 257.4L531.5 257.1L468.9 256.7L431.0 254.5L406.0 254.2L374.8 253.4L355.9 252.7L343.0 250.2L330.5 248.9L318.0 248.9L300.5 248.9L242.9 248.8L137.0 246.7ZM361.6 236.2L366.6 234.4L371.0 234.2L387.2 231.7L406.0 229.8L443.5 229.2L468.9 228.9L506.5 229.8L531.5 229.6L581.9 229.4L607.0 229.2L637.0 229.8L647.0 231.3L652.0 233.1L652.0 233.1L647.0 235.0L637.0 235.8L607.0 237.0L581.9 238.0L531.5 238.7L506.5 238.3L468.9 238.0L443.5 238.7L406.0 238.3L387.2 239.2L371.0 239.2L366.6 238.1L361.6 236.2ZM137.0 257.4L180.0 256.7L230.0 255.8L236.2 256.2L241.2 258.0L241.2 258.0L236.2 259.8L230.0 260.1L180.0 262.6L137.0 264.5ZM254.9 258.5L259.9 256.7L268.0 256.1L296.8 256.1L304.2 256.7L309.2 258.5L309.2 258.5L304.2 260.3L296.8 260.8L268.0 260.8L259.9 260.3L254.9 258.5ZM206.9 272.2L211.9 270.4L220.0 269.2L242.9 269.4L276.8 271.1L299.2 271.7L313.0 272.5L318.0 274.4L318.0 274.4L313.0 276.2L299.2 276.6L276.8 277.0L242.9 276.0L220.0 275.1L211.9 274.1L206.9 272.2ZM344.2 271.6L349.2 269.8L355.9 269.6L381.0 269.9L392.9 270.4L397.9 272.2L397.9 272.2L392.9 274.1L381.0 274.9L355.9 274.5L349.2 273.5L344.2 271.6ZM404.8 270.6L409.8 268.8L431.0 266.4L468.9 263.6L494.0 263.0L519.0 262.4L544.0 262.6L561.5 263.2L566.5 265.0L566.5 265.0L561.5 266.8L544.0 267.4L519.0 268.3L494.0 269.1L468.9 270.8L431.0 272.4L409.8 272.5L404.8 270.6ZM728.2 241.2L733.2 239.4L750.8 238.0L767.0 237.1L767.0 245.2L750.8 244.5L733.2 243.1L728.2 241.2ZM238.0 394.1L243.0 391.7L304.2 391.7L309.2 394.1L309.2 394.1L304.2 396.4L243.0 396.4L238.0 394.1ZM476.5 393.1L481.5 391.3L489.0 389.6L531.5 389.9L542.8 392.2L547.8 394.0L547.8 394.0L542.8 395.8L531.5 396.4L489.0 396.4L481.5 395.0L476.5 393.1Z"/>
<path fill="#ffff00" d="M186.2 183.1L192.5 182.2L205.0 182.2L208.8 183.1L208.8 183.9L205.0 184.8L192.5 184.8L186.2 183.9ZM231.9 175.2L236.2 173.8L242.9 173.1L330.5 173.1L333.0 173.1L355.9 173.2L371.0 174.4L387.2 176.9L396.6 179.3L396.6 180.2L387.2 181.0L371.0 181.5L355.9 180.5L333.0 179.6L330.5 180.0L242.9 179.1L236.2 177.8L231.9 176.1ZM413.5 183.6L423.5 182.8L448.5 182.8L456.6 183.9L456.6 184.8L448.5 186.0L423.5 185.6L413.5 184.4ZM435.4 168.9L453.5 166.9L468.9 165.2L494.0 161.9L515.2 158.0L550.2 158.0L575.2 158.0L581.9 158.0L619.5 158.0L644.5 158.0L694.9 158.0L707.0 158.0L732.0 158.0L747.0 158.0L757.0 160.6L763.2 162.5L767.0 163.1L767.0 164.0L763.2 165.0L757.0 166.0L747.0 167.2L732.0 168.8L707.0 170.0L694.9 170.5L644.5 169.4L619.5 168.1L581.9 166.8L575.2 166.9L550.2 166.0L515.2 166.9L494.0 168.8L468.9 170.1L453.5 170.6L435.4 169.8ZM503.4 198.6L512.8 196.9L525.2 195.2L581.9 195.0L594.5 196.5L600.8 198.3L600.8 199.2L594.5 199.8L581.9 200.0L525.2 200.0L512.8 199.8L503.4 199.4ZM668.2 190.2L682.0 188.8L694.9 187.5L707.0 186.9L744.5 186.9L767.0 186.2L767.0 190.0L744.5 191.9L707.0 192.5L694.9 193.6L682.0 193.1L668.2 191.1ZM611.4 209.6L623.2 207.8L644.5 205.6L657.0 204.0L673.0 202.8L694.9 203.0L719.5 203.5L739.5 204.0L753.2 205.8L753.2 206.7L739.5 208.8L719.5 209.8L694.9 210.5L673.0 210.5L657.0 212.5L644.5 213.2L623.2 212.5L611.4 210.4ZM137.0 230.6L242.9 231.1L284.2 230.6L308.0 230.6L318.0 230.0L330.5 228.8L346.8 227.5L355.9 227.1L368.5 224.4L381.0 222.5L406.0 221.9L468.9 221.8L494.0 220.2L519.0 220.0L556.5 221.0L569.0 222.5L581.9 224.1L597.0 224.8L619.5 225.0L633.9 225.8L633.9 226.7L619.5 227.5L597.0 228.1L581.9 227.0L569.0 226.0L556.5 225.0L519.0 226.2L494.0 227.5L468.9 229.1L406.0 229.0L381.0 228.8L368.5 228.8L355.9 229.5L346.8 230.0L330.5 231.9L318.0 234.4L308.0 236.9L284.2 236.9L242.9 238.1L137.0 238.1ZM137.0 246.5L155.0 246.9L192.5 247.5L217.5 248.1L242.9 247.9L280.5 248.5L305.5 249.8L330.5 251.9L355.9 253.8L381.0 254.0L406.0 254.4L443.5 255.2L468.9 256.2L506.5 256.9L544.0 257.1L569.0 258.1L579.0 260.2L579.0 261.1L569.0 261.5L544.0 262.5L506.5 263.1L468.9 262.7L443.5 262.2L406.0 261.0L381.0 260.0L355.9 259.4L330.5 258.1L305.5 256.0L280.5 255.2L242.9 255.0L217.5 255.0L192.5 254.4L155.0 254.0L137.0 253.8ZM381.0 243.1L388.5 241.5L406.0 240.0L468.9 238.5L581.9 238.8L594.5 238.5L603.2 238.2L638.2 237.8L657.0 239.4L682.0 241.0L694.9 242.4L707.0 244.0L732.0 245.0L767.0 246.2L767.0 251.9L732.0 249.4L707.0 247.5L694.9 245.1L682.0 244.9L657.0 245.0L638.2 245.0L603.2 245.2L594.5 246.2L581.9 247.2L468.9 246.6L406.0 245.2L388.5 245.0L381.0 243.9ZM143.1 271.1L145.0 271.0L172.5 271.0L173.8 271.1L173.8 271.9L172.5 272.0L145.0 272.0L143.1 271.9ZM423.5 273.9L426.0 273.8L461.0 273.8L463.5 273.9L463.5 274.8L461.0 275.0L426.0 275.0L423.5 274.8ZM492.8 271.1L512.8 268.8L544.0 268.1L569.0 270.0L574.0 271.1L574.0 271.9L569.0 272.5L544.0 273.1L512.8 273.1L492.8 271.9ZM600.1 264.3L609.5 263.1L657.0 263.1L669.5 264.8L688.9 266.1L688.9 266.9L669.5 266.9L657.0 266.9L609.5 266.9L600.1 265.2ZM583.9 273.6L594.5 273.1L622.0 272.8L642.0 274.0L689.5 274.0L694.9 275.0L702.0 274.8L702.0 275.7L694.9 276.9L689.5 276.9L642.0 276.9L622.0 275.6L594.5 276.0L583.9 274.4ZM720.8 232.7L738.2 230.6L757.0 230.0L767.0 230.0L767.0 235.6L757.0 235.6L738.2 235.0L720.8 233.6ZM682.0 266.0L687.0 266.0L688.9 266.2L688.9 267.1L687.0 267.2L682.0 267.2ZM183.1 218.9L195.0 217.5L217.5 216.2L236.2 215.0L242.9 214.6L280.5 213.5L330.5 213.8L346.8 216.4L346.8 217.3L330.5 219.4L280.5 219.5L242.9 221.4L236.2 222.5L217.5 222.2L195.0 221.5L183.1 219.8ZM173.8 393.6L176.2 393.1L200.0 393.1L201.9 393.6L201.9 394.4L200.0 395.0L176.2 395.0L173.8 394.4ZM208.8 393.9L215.0 392.5L223.8 392.5L227.5 393.9L227.5 394.8L223.8 396.0L215.0 395.6L208.8 394.8ZM228.8 391.1L231.2 390.6L242.9 390.9L246.8 391.7L246.8 392.6L242.9 392.5L231.2 392.5L228.8 391.9ZM253.0 389.2L255.5 389.0L298.0 390.0L298.0 391.2L255.5 390.2L253.0 390.1ZM303.0 391.8L308.0 391.2L323.0 391.2L330.5 392.5L343.0 392.5L349.2 393.9L349.2 394.8L343.0 396.0L330.5 396.2L323.0 395.0L308.0 393.1L303.0 392.7ZM361.0 393.1L364.8 393.1L364.8 394.0L361.0 394.0ZM371.0 393.0L396.0 393.0L396.0 394.2L371.0 394.2ZM434.8 396.1L443.5 395.0L451.0 391.9L459.8 393.1L462.2 393.9L462.2 394.8L459.8 395.6L451.0 396.5L443.5 396.9L434.8 396.9ZM472.8 391.9L482.1 391.9L482.1 393.1L472.8 393.1ZM520.2 389.8L525.2 389.8L539.0 390.0L549.0 390.6L569.0 390.0L581.9 391.9L581.9 395.6L569.0 395.0L549.0 393.1L539.0 391.5L525.2 391.0L520.2 390.7ZM582.0 393.1L590.1 393.5L590.1 394.5L582.0 394.8ZM673.9 393.8L682.0 393.9L682.0 394.8L673.9 395.0ZM733.2 391.9L745.8 392.2L745.8 393.1L733.2 393.1ZM753.2 389.8L758.9 390.0L758.9 391.0L753.2 391.0ZM755.8 393.8L759.5 394.0L759.5 395.0L755.8 395.0Z"/>
<path fill="#00ffff" d="M137.0 172.5L155.0 172.2L167.5 171.9L173.8 173.1L173.8 173.9L167.5 174.4L155.0 175.0L137.0 175.6ZM185.6 157.6L190.0 158.0L197.5 158.0L207.5 158.0L242.9 158.0L355.9 158.0L386.0 158.0L406.0 158.0L426.0 158.0L443.5 158.0L453.5 158.0L462.2 157.6L462.2 158.4L453.5 161.9L443.5 163.8L426.0 165.6L406.0 166.9L386.0 168.8L355.9 169.2L242.9 169.1L207.5 167.8L197.5 167.5L190.0 161.9L185.6 158.4ZM175.0 204.3L185.0 203.1L212.5 202.8L223.1 203.9L223.1 204.8L212.5 206.9L185.0 206.5L175.0 205.2ZM244.2 209.6L250.5 208.1L273.0 208.1L305.5 206.9L330.5 205.6L355.9 203.8L366.0 204.4L371.0 205.8L371.0 206.7L366.0 206.9L355.9 207.2L330.5 208.8L305.5 210.0L273.0 211.2L250.5 211.2L244.2 210.4ZM396.0 195.6L406.0 194.4L418.5 193.1L443.5 191.9L468.9 190.3L494.0 188.1L525.2 185.6L556.5 183.8L581.9 182.1L589.5 182.8L594.5 183.1L608.2 181.9L623.2 178.8L634.5 175.6L644.5 175.0L657.0 174.6L669.5 174.4L694.9 173.3L719.5 173.8L738.2 173.4L750.8 172.9L767.0 171.9L767.0 176.9L750.8 179.4L738.2 181.2L719.5 182.8L694.9 182.8L669.5 183.8L657.0 184.0L644.5 184.8L634.5 185.2L623.2 186.2L608.2 189.4L594.5 191.2L589.5 191.9L581.9 192.5L556.5 192.5L525.2 192.5L494.0 193.1L468.9 194.4L443.5 195.2L418.5 196.2L406.0 196.5L396.0 196.4ZM545.9 172.7L556.5 171.2L581.9 170.0L594.5 170.6L602.6 172.1L602.6 172.9L594.5 173.5L581.9 174.2L556.5 174.0L545.9 173.6ZM441.6 210.8L453.5 209.4L468.9 208.8L494.0 210.0L525.2 211.2L556.5 212.5L581.9 214.1L607.0 216.2L644.5 217.5L694.9 219.9L719.5 220.2L767.0 221.5L767.0 228.1L719.5 226.2L694.9 225.0L644.5 222.8L607.0 221.2L581.9 219.1L556.5 218.1L525.2 217.5L494.0 215.6L468.9 213.1L453.5 213.1L441.6 211.7ZM688.2 197.7L694.5 197.2L738.2 197.2L745.8 197.7L745.8 198.6L738.2 199.0L694.5 199.0L688.2 198.6ZM137.0 221.0L167.5 222.2L186.2 222.5L242.9 223.6L255.5 223.8L274.2 224.0L290.5 224.8L298.0 225.2L298.0 226.1L290.5 226.2L274.2 227.5L255.5 229.4L242.9 230.0L186.2 230.0L167.5 230.0L137.0 230.0ZM137.0 238.8L242.9 239.2L300.5 240.0L318.0 241.2L330.5 241.9L343.0 243.8L355.9 245.9L374.8 247.2L406.0 247.8L431.0 247.8L468.9 247.5L531.5 247.5L556.5 247.5L581.9 249.4L594.5 251.2L613.2 252.2L640.8 253.8L669.5 254.4L694.9 255.0L707.0 255.6L732.0 257.5L767.0 258.1L767.0 263.1L732.0 262.5L707.0 261.9L694.9 261.0L669.5 260.0L640.8 260.0L613.2 260.0L594.5 258.8L581.9 257.2L556.5 256.0L531.5 255.8L468.9 255.3L431.0 253.1L406.0 252.8L374.8 252.0L355.9 251.2L343.0 248.8L330.5 247.5L318.0 247.5L300.5 247.5L242.9 247.4L137.0 245.2ZM366.6 235.8L371.0 235.6L387.2 233.1L406.0 231.2L443.5 230.6L468.9 230.3L506.5 231.2L531.5 231.0L581.9 230.8L607.0 230.6L637.0 231.2L647.0 232.7L647.0 233.6L637.0 234.4L607.0 235.6L581.9 236.6L531.5 237.2L506.5 236.9L468.9 236.6L443.5 237.2L406.0 236.9L387.2 237.8L371.0 237.8L366.6 236.7ZM137.0 258.8L180.0 258.1L230.0 257.2L236.2 257.6L236.2 258.4L230.0 258.8L180.0 261.2L137.0 263.1ZM259.9 258.1L268.0 257.5L296.8 257.5L304.2 258.1L304.2 258.9L296.8 259.4L268.0 259.4L259.9 258.9ZM211.9 271.8L220.0 270.6L242.9 270.8L276.8 272.5L299.2 273.1L313.0 273.9L313.0 274.8L299.2 275.2L276.8 275.6L242.9 274.6L220.0 273.8L211.9 272.7ZM349.2 271.2L355.9 271.0L381.0 271.2L392.9 271.8L392.9 272.7L381.0 273.5L355.9 273.1L349.2 272.1ZM409.8 270.2L431.0 267.8L468.9 265.0L494.0 264.4L519.0 263.8L544.0 264.0L561.5 264.6L561.5 265.4L544.0 266.0L519.0 266.9L494.0 267.8L468.9 269.4L431.0 271.0L409.8 271.1ZM733.2 240.8L750.8 239.4L767.0 238.5L767.0 243.8L750.8 243.1L733.2 241.7ZM183.1 390.0L185.6 390.0L185.6 391.0L183.1 391.0ZM243.0 393.1L304.2 393.1L304.2 395.0L243.0 395.0ZM456.6 391.5L460.4 391.5L460.4 392.8L456.6 392.8ZM472.8 389.8L489.0 389.8L489.0 391.2L472.8 391.2ZM481.5 392.7L489.0 391.0L531.5 391.2L542.8 393.6L542.8 394.4L531.5 395.0L489.0 395.0L481.5 393.6ZM651.4 391.0L668.2 391.0L668.2 392.8L651.4 393.1ZM669.5 390.0L672.6 390.0L672.6 391.9L669.5 391.9ZM674.5 391.0L678.9 391.0L678.9 392.5L674.5 392.5ZM695.1 389.9L710.8 389.9L710.8 390.8L695.1 390.8ZM702.0 393.1L723.9 393.5L723.9 394.8L702.0 394.8Z"/>
<path fill="#ffaa00" d="M517.8 163.3L527.8 161.2L544.0 158.8L556.5 158.0L581.9 158.0L625.8 158.0L642.0 158.0L669.5 158.0L694.9 158.0L700.8 158.0L719.5 158.0L724.5 161.2L724.5 162.2L719.5 163.8L700.8 167.5L694.9 168.4L669.5 168.1L642.0 166.9L625.8 165.6L581.9 165.8L556.5 165.8L544.0 165.6L527.8 165.0L517.8 164.2ZM686.4 206.7L690.8 206.2L694.9 206.0L697.6 206.4L697.6 207.3L694.9 208.1L690.8 208.1L686.4 207.6ZM137.0 231.9L242.9 232.5L274.2 232.8L284.9 234.6L284.9 235.4L274.2 236.5L242.9 236.9L137.0 236.9ZM379.8 225.6L387.2 223.5L406.0 223.1L468.9 223.9L487.8 223.1L510.9 222.7L510.9 223.6L487.8 226.0L468.9 228.1L406.0 228.1L387.2 227.8L379.8 226.4ZM137.0 247.5L155.0 247.5L192.5 248.1L242.9 248.5L280.5 249.4L305.5 251.0L318.0 252.2L329.2 253.3L329.2 254.2L318.0 254.5L305.5 254.8L280.5 254.8L242.9 253.9L192.5 253.1L155.0 251.9L137.0 250.6ZM343.0 255.8L349.2 255.2L355.9 255.0L381.0 255.2L406.0 256.0L431.0 256.9L468.9 258.1L506.5 258.1L542.8 258.9L542.8 259.8L506.5 261.0L468.9 261.1L431.0 260.2L406.0 259.8L381.0 259.0L355.9 257.9L349.2 257.2L343.0 256.7ZM402.9 242.7L418.5 241.0L468.9 239.8L556.5 240.6L581.9 240.0L600.8 240.2L615.8 240.8L615.8 241.7L600.8 242.8L581.9 244.7L556.5 246.2L468.9 245.4L418.5 244.8L402.9 243.6ZM759.5 233.1L763.2 232.5L767.0 232.5L767.0 234.4L763.2 234.4L759.5 233.9ZM233.8 218.2L237.5 217.5L242.9 217.2L261.8 216.0L295.5 216.2L300.5 217.1L300.5 217.9L295.5 218.5L261.8 219.0L242.9 220.0L237.5 219.8L233.8 219.1ZM218.1 393.7L220.0 393.5L225.0 393.5L225.0 394.8L220.0 394.8L218.1 394.6ZM304.2 391.9L319.2 391.9L319.2 392.8L304.2 392.8ZM330.5 393.5L339.2 393.8L339.2 395.0L330.5 394.8ZM443.5 394.9L446.0 394.8L453.5 393.5L459.8 393.5L459.8 394.8L453.5 395.6L446.0 396.0L443.5 395.8ZM549.0 391.9L559.0 391.9L559.0 392.8L549.0 393.1ZM570.9 393.1L574.0 393.1L574.0 394.0L570.9 394.0Z"/>
<path fill="#0055ff" d="M208.8 163.9L217.5 161.9L225.0 159.4L230.0 158.0L242.9 158.0L290.5 158.0L333.0 158.0L355.9 159.0L368.5 160.6L378.5 162.5L386.0 163.9L386.0 164.8L378.5 166.0L368.5 166.9L355.9 168.0L333.0 168.5L290.5 168.5L242.9 168.1L230.0 167.8L225.0 167.5L217.5 166.9L208.8 164.8ZM535.9 187.8L546.5 187.6L559.0 187.2L565.2 187.1L565.9 187.7L565.9 188.6L565.2 189.0L559.0 189.0L546.5 188.9L535.9 188.7ZM648.2 179.3L663.2 177.5L694.9 176.5L713.2 176.9L724.5 178.5L735.8 179.3L735.8 180.2L724.5 181.2L713.2 181.9L694.9 181.9L663.2 181.2L648.2 180.2ZM608.9 218.1L619.5 217.2L650.8 217.2L669.5 218.8L694.9 220.8L702.0 222.0L725.8 222.0L750.8 222.5L767.0 223.1L767.0 226.9L750.8 226.5L725.8 225.0L702.0 223.8L694.9 223.1L669.5 221.9L650.8 220.8L619.5 220.0L608.9 218.9ZM137.0 223.8L155.0 224.0L186.2 224.0L225.0 224.4L242.9 225.0L253.0 226.1L253.0 226.9L242.9 228.1L225.0 228.8L186.2 228.8L155.0 228.1L137.0 226.9ZM137.0 239.4L165.0 239.6L205.0 239.8L242.9 239.8L280.5 240.8L305.5 241.9L318.0 242.8L328.0 243.9L328.0 244.8L318.0 245.6L305.5 246.2L280.5 246.8L242.9 246.8L205.0 245.6L165.0 244.4L137.0 243.8ZM374.1 249.3L381.0 248.5L406.0 248.2L468.9 248.6L500.2 249.0L531.5 249.0L556.5 250.0L581.9 251.9L589.5 252.5L597.0 253.9L597.0 254.8L589.5 255.2L581.9 255.1L556.5 254.8L531.5 254.8L500.2 254.8L468.9 253.8L406.0 252.2L381.0 251.2L374.1 250.2ZM622.0 257.1L628.2 256.0L682.0 256.0L690.8 257.1L690.8 257.9L682.0 259.0L628.2 259.0L622.0 257.9ZM406.0 235.2L412.2 233.1L423.5 231.9L468.9 230.9L504.0 232.2L519.0 233.8L532.8 234.9L532.8 235.8L519.0 235.6L504.0 235.6L468.9 236.1L423.5 236.9L412.2 236.5L406.0 236.1ZM253.0 392.7L258.0 392.2L298.0 393.0L298.0 394.0L258.0 394.0L253.0 393.6ZM479.0 389.8L482.1 389.8L482.1 391.0L479.0 391.0ZM489.0 392.7L494.0 392.2L532.8 392.8L532.8 394.0L494.0 394.0L489.0 393.6Z"/>
<path fill="#ff5500" d="M549.0 162.1L562.8 158.8L575.2 158.0L581.9 158.0L619.5 158.0L642.0 158.0L644.5 160.6L657.0 160.6L668.2 162.7L668.2 163.6L657.0 164.4L644.5 164.8L642.0 164.8L619.5 163.8L581.9 164.6L575.2 164.2L562.8 163.8L549.0 162.9ZM158.8 234.3L167.5 233.1L180.0 232.5L217.5 232.8L242.9 233.1L255.5 233.5L259.9 233.9L259.9 234.8L255.5 235.2L242.9 235.7L217.5 236.5L180.0 236.9L167.5 236.5L158.8 235.2ZM406.0 224.7L414.8 224.0L422.2 224.0L433.5 224.8L433.5 225.7L422.2 226.2L414.8 226.0L406.0 225.6ZM434.8 225.6L441.0 225.0L449.8 225.6L449.8 226.4L441.0 226.9L434.8 226.4ZM176.9 250.6L186.2 249.4L205.0 248.8L242.9 248.9L280.5 250.0L306.1 252.7L306.1 253.6L280.5 254.4L242.9 253.8L205.0 253.1L186.2 252.5L176.9 251.4ZM427.9 241.8L443.5 240.6L468.9 240.4L481.5 241.0L500.2 241.9L554.0 242.2L558.4 243.1L558.4 243.9L554.0 245.0L500.2 245.6L481.5 243.8L468.9 243.6L443.5 243.5L427.9 242.7Z"/>
<path fill="#0000aa" d="M228.1 163.6L233.8 161.9L237.5 160.6L242.9 159.1L255.5 158.2L290.5 158.2L333.0 158.2L343.0 158.5L350.5 159.4L355.9 161.9L358.5 163.1L358.5 163.9L355.9 165.0L350.5 166.9L343.0 166.9L333.0 166.0L290.5 166.0L255.5 167.1L242.9 167.1L237.5 166.9L233.8 166.0L228.1 164.4ZM192.5 226.1L200.0 225.6L217.5 225.6L225.0 226.1L225.0 226.9L217.5 227.5L200.0 227.5L192.5 226.9ZM155.0 241.2L165.0 240.0L182.5 240.0L242.9 240.1L280.5 241.2L301.1 243.9L301.1 244.8L280.5 246.5L242.9 246.4L182.5 244.4L165.0 243.5L155.0 242.1ZM396.6 249.6L406.0 248.8L437.2 249.0L459.8 249.0L468.9 249.9L502.8 249.8L536.5 250.0L556.5 251.2L571.5 253.1L571.5 253.9L556.5 254.4L536.5 254.4L502.8 254.4L468.9 252.8L459.8 253.1L437.2 252.5L406.0 251.5L396.6 250.4ZM435.4 233.9L443.5 232.5L468.9 232.4L481.5 232.9L487.8 233.3L487.8 234.2L481.5 234.8L468.9 235.5L443.5 235.6L435.4 234.8ZM265.5 391.9L284.2 392.2L284.2 393.8L265.5 393.8ZM502.8 391.9L520.9 392.2L520.9 394.0L502.8 394.0Z"/>
<path fill="#ff2828" d="M569.0 161.4L575.2 159.4L581.9 158.0L600.8 158.0L610.8 158.8L618.2 160.2L618.2 161.1L610.8 161.9L600.8 162.5L581.9 163.8L575.2 163.1L569.0 162.3ZM215.0 251.1L222.5 250.0L230.0 249.8L242.9 249.4L256.1 250.8L256.1 251.7L242.9 253.1L230.0 253.1L222.5 252.9L215.0 251.9Z"/>
<path fill="#3300aa" d="M254.2 162.7L263.0 161.9L275.5 160.6L323.0 160.6L331.8 162.5L331.8 163.5L323.0 165.0L275.5 165.0L263.0 164.0L254.2 163.6ZM182.5 242.1L192.5 240.6L242.9 241.1L261.8 241.2L269.9 243.1L269.9 243.9L261.8 245.6L242.9 245.6L192.5 244.4L182.5 242.9Z"/>
<path fill="#0055ff" d="M243.0 158.0L256.8 158.0L259.2 157.9L259.2 158.8L256.8 160.0L243.0 160.2ZM305.5 158.0L308.0 158.0L320.5 158.0L323.0 158.0L323.0 159.0L320.5 160.0L308.0 160.0L305.5 159.0ZM330.5 158.0L333.0 158.0L343.0 158.0L350.5 158.0L355.9 158.0L355.9 162.5L350.5 161.9L343.0 160.0L333.0 160.0L330.5 159.0Z"/>
</g></g>
<g shape-rendering="crispEdges" fill="#000">
<path fill-rule="evenodd" d="M135 156H769V474H135ZM137 158V472H767V158Z"/>
<path d="M147 158h1v4h-1zM147 468h1v4h-1zM159 158h1v4h-1zM159 468h1v4h-1zM172 158h1v4h-1zM172 468h1v4h-1zM185 158h1v4h-1zM185 468h1v4h-1zM197 158h2v9h-2zM197 463h2v9h-2zM210 158h1v4h-1zM210 468h1v4h-1zM223 158h1v4h-1zM223 468h1v4h-1zM236 158h1v4h-1zM236 468h1v4h-1zM248 158h1v4h-1zM248 468h1v4h-1zM260 158h2v9h-2zM260 463h2v9h-2zM274 158h1v4h-1zM274 468h1v4h-1zM286 158h1v4h-1zM286 468h1v4h-1zM299 158h1v4h-1zM299 468h1v4h-1zM312 158h1v4h-1zM312 468h1v4h-1zM324 158h2v9h-2zM324 463h2v9h-2zM337 158h1v4h-1zM337 468h1v4h-1zM350 158h1v4h-1zM350 468h1v4h-1zM363 158h1v4h-1zM363 468h1v4h-1zM375 158h1v4h-1zM375 468h1v4h-1zM388 158h2v9h-2zM388 463h2v9h-2zM401 158h1v4h-1zM401 468h1v4h-1zM413 158h1v4h-1zM413 468h1v4h-1zM426 158h1v4h-1zM426 468h1v4h-1zM439 158h1v4h-1zM439 468h1v4h-1zM451 158h2v9h-2zM451 463h2v9h-2zM464 158h1v4h-1zM464 468h1v4h-1zM477 158h1v4h-1zM477 468h1v4h-1zM490 158h1v4h-1zM490 468h1v4h-1zM502 158h1v4h-1zM502 468h1v4h-1zM514 158h2v9h-2zM514 463h2v9h-2zM528 158h1v4h-1zM528 468h1v4h-1zM540 158h1v4h-1zM540 468h1v4h-1zM553 158h1v4h-1zM553 468h1v4h-1zM566 158h1v4h-1zM566 468h1v4h-1zM578 158h2v9h-2zM578 463h2v9h-2zM591 158h1v4h-1zM591 468h1v4h-1zM604 158h1v4h-1zM604 468h1v4h-1zM617 158h1v4h-1zM617 468h1v4h-1zM629 158h1v4h-1zM629 468h1v4h-1zM642 158h2v9h-2zM642 463h2v9h-2zM655 158h1v4h-1zM655 468h1v4h-1zM667 158h1v4h-1zM667 468h1v4h-1zM680 158h1v4h-1zM680 468h1v4h-1zM693 158h1v4h-1zM693 468h1v4h-1zM705 158h2v9h-2zM705 463h2v9h-2zM718 158h1v4h-1zM718 468h1v4h-1zM731 158h1v4h-1zM731 468h1v4h-1zM744 158h1v4h-1zM744 468h1v4h-1zM756 158h1v4h-1zM756 468h1v4h-1zM137 454h4v1h-4zM763 454h4v1h-4zM137 434h4v1h-4zM763 434h4v1h-4zM137 414h4v1h-4zM763 414h4v1h-4zM137 394h9v2h-9zM758 394h9v2h-9zM137 375h4v1h-4zM763 375h4v1h-4zM137 355h4v1h-4zM763 355h4v1h-4zM137 335h4v1h-4zM763 335h4v1h-4zM137 314h9v2h-9zM758 314h9v2h-9zM137 295h4v1h-4zM763 295h4v1h-4zM137 275h4v1h-4zM763 275h4v1h-4zM137 255h4v1h-4zM763 255h4v1h-4zM137 235h9v2h-9zM758 235h9v2h-9zM137 216h4v1h-4zM763 216h4v1h-4zM137 196h4v1h-4zM763 196h4v1h-4zM137 176h4v1h-4zM763 176h4v1h-4z"/>
</g>
<g shape-rendering="crispEdges">
<rect x="784" y="247.0" width="18" height="22.6" fill="#ff2828"/>
<rect x="784" y="269.6" width="18" height="22.6" fill="#ff5500"/>
<rect x="784" y="292.2" width="18" height="22.6" fill="#ffaa00"/>
<rect x="784" y="314.8" width="18" height="22.6" fill="#ffff00"/>
<rect x="784" y="337.4" width="18" height="22.6" fill="#80ff00"/>
<rect x="784" y="360.0" width="18" height="22.6" fill="#00ff80"/>
<rect x="784" y="382.6" width="18" height="22.6" fill="#00ffff"/>
<rect x="784" y="405.2" width="18" height="22.6" fill="#0055ff"/>
<rect x="784" y="427.8" width="18" height="22.6" fill="#0000aa"/>
<rect x="784" y="450.4" width="18" height="22.6" fill="#3300aa"/>
<path d="M784 247L793 207L802 247Z" fill="#ffaaaa"/>
<path d="M784 473L793 513L802 473Z" fill="#8000aa"/>
</g>
<g fill="none" stroke="#000" stroke-width="2" stroke-linejoin="miter">
<path d="M784 247L793 207L802 247V473L793 513L784 473Z"/>
<path d="M784 247.0H802M784 269.6H802M784 292.2H802M784 314.8H802M784 337.4H802M784 360.0H802M784 382.6H802M784 405.2H802M784 427.8H802M784 450.4H802M784 473.0H802" shape-rendering="crispEdges"/>
</g>
<g fill="none" stroke="#000" stroke-linecap="square" stroke-linejoin="round" shape-rendering="crispEdges">
<path d="M226.60 109.06L226.60 118.86L226.60 98.28L226.60 101.22L226.60 109.06L228.60 111.02L230.60 112.00L233.60 112.00L235.60 111.02L237.60 109.06L238.60 106.12L238.60 104.16L237.60 101.22L235.60 99.26L233.60 98.28L230.60 98.28L228.60 99.26L226.60 101.22M243.22 106.12L243.22 104.16L244.22 101.22L246.22 99.26L248.22 98.28L251.22 98.28L253.22 99.26L255.22 101.22L256.22 104.16L256.22 106.12L255.22 109.06L253.22 111.02L251.22 112.00L248.22 112.00L246.22 111.02L244.22 109.06L243.22 106.12M259.84 98.28L262.84 98.28L262.84 108.08L263.84 111.02L265.84 112.00L267.84 112.00M262.84 91.42L262.84 98.28L266.84 98.28M271.99 104.16L271.99 106.12L272.99 109.06L274.99 111.02L276.99 112.00L279.99 112.00L281.99 111.02L283.99 109.06M271.99 104.16L272.99 101.22L274.99 99.26L276.99 98.28L279.99 98.28L281.99 99.26L282.99 100.24L283.99 102.20L283.99 104.16L271.99 104.16M289.68 102.20L289.68 112.00L289.68 98.28L289.68 102.20L292.68 99.26L294.68 98.28L297.68 98.28L299.68 99.26L300.68 102.20L300.68 112.00M305.30 98.28L308.30 98.28L308.30 108.08L309.30 111.02L311.30 112.00L313.30 112.00M308.30 91.42L308.30 98.28L312.30 98.28M318.45 112.00L318.45 98.28M317.45 91.42L318.45 92.40L319.45 91.42L318.45 90.44L317.45 91.42M336.89 109.06L334.89 111.02L332.89 112.00L329.89 112.00L327.89 111.02L325.89 109.06L324.89 106.12L324.89 104.16L325.89 101.22L327.89 99.26L329.89 98.28L332.89 98.28L334.89 99.26L336.89 101.22L336.89 109.06L336.89 112.00L336.89 98.28L336.89 101.22M343.51 112.00L343.51 91.42M363.76 98.28L366.76 98.28L366.76 108.08L367.76 111.02L369.76 112.00L371.76 112.00M366.76 91.42L366.76 98.28L370.76 98.28M375.90 104.16L375.90 106.12L376.90 109.06L378.90 111.02L380.90 112.00L383.90 112.00L385.90 111.02L387.90 109.06M375.90 104.16L376.90 101.22L378.90 99.26L380.90 98.28L383.90 98.28L385.90 99.26L386.90 100.24L387.90 102.20L387.90 104.16L375.90 104.16M393.60 102.20L393.60 112.00L393.60 98.28L393.60 102.20L396.60 99.26L398.60 98.28L401.60 98.28L403.60 99.26L404.60 102.20L404.60 112.00M404.60 102.20L407.60 99.26L409.60 98.28L412.60 98.28L414.60 99.26L415.60 102.20L415.60 112.00M421.40 109.06L421.40 118.86L421.40 98.28L421.40 101.22L421.40 109.06L423.40 111.02L425.40 112.00L428.40 112.00L430.40 111.02L432.40 109.06L433.40 106.12L433.40 104.16L432.40 101.22L430.40 99.26L428.40 98.28L425.40 98.28L423.40 99.26L421.40 101.22M438.02 104.16L438.02 106.12L439.02 109.06L441.02 111.02L443.02 112.00L446.02 112.00L448.02 111.02L450.02 109.06M438.02 104.16L439.02 101.22L441.02 99.26L443.02 98.28L446.02 98.28L448.02 99.26L449.02 100.24L450.02 102.20L450.02 104.16L438.02 104.16M455.71 104.16L455.71 112.00L455.71 98.28L455.71 104.16L456.71 101.22L458.71 99.26L460.71 98.28L463.71 98.28M478.78 109.06L476.78 111.02L474.78 112.00L471.78 112.00L469.78 111.02L467.78 109.06L466.78 106.12L466.78 104.16L467.78 101.22L469.78 99.26L471.78 98.28L474.78 98.28L476.78 99.26L478.78 101.22L478.78 109.06L478.78 112.00L478.78 98.28L478.78 101.22M483.40 98.28L486.40 98.28L486.40 108.08L487.40 111.02L489.40 112.00L491.40 112.00M486.40 91.42L486.40 98.28L490.40 98.28M496.55 98.28L496.55 108.08L497.55 111.02L499.55 112.00L502.55 112.00L504.55 111.02L507.55 108.08L507.55 112.00L507.55 98.28L507.55 108.08M514.17 104.16L514.17 112.00L514.17 98.28L514.17 104.16L515.17 101.22L517.17 99.26L519.17 98.28L522.17 98.28M525.24 104.16L525.24 106.12L526.24 109.06L528.24 111.02L530.24 112.00L533.24 112.00L535.24 111.02L537.24 109.06M525.24 104.16L526.24 101.22L528.24 99.26L530.24 98.28L533.24 98.28L535.24 99.26L536.24 100.24L537.24 102.20L537.24 104.16L525.24 104.16M568.74 109.06L566.74 111.02L564.74 112.00L561.74 112.00L559.74 111.02L557.74 109.06L556.74 106.12L556.74 104.16L557.74 101.22L559.74 99.26L561.74 98.28L564.74 98.28L566.74 99.26L568.74 101.22L568.74 109.06L568.74 112.00L568.74 91.42L568.74 101.22M574.36 104.16L574.36 106.12L575.36 109.06L577.36 111.02L579.36 112.00L582.36 112.00L584.36 111.02L586.36 109.06M574.36 104.16L575.36 101.22L577.36 99.26L579.36 98.28L582.36 98.28L584.36 99.26L585.36 100.24L586.36 102.20L586.36 104.16L574.36 104.16M590.06 98.28L596.06 112.00L602.06 98.28M606.90 112.00L606.90 98.28M605.90 91.42L606.90 92.40L607.90 91.42L606.90 90.44L605.90 91.42M625.34 109.06L623.34 111.02L621.34 112.00L618.34 112.00L616.34 111.02L614.34 109.06L613.34 106.12L613.34 104.16L614.34 101.22L616.34 99.26L618.34 98.28L621.34 98.28L623.34 99.26L625.34 101.22L625.34 109.06L625.34 112.00L625.34 98.28L625.34 101.22M629.96 98.28L632.96 98.28L632.96 108.08L633.96 111.02L635.96 112.00L637.96 112.00M632.96 91.42L632.96 98.28L636.96 98.28M643.11 112.00L643.11 98.28M642.11 91.42L643.11 92.40L644.11 91.42L643.11 90.44L642.11 91.42M649.55 106.12L649.55 104.16L650.55 101.22L652.55 99.26L654.55 98.28L657.55 98.28L659.55 99.26L661.55 101.22L662.55 104.16L662.55 106.12L661.55 109.06L659.55 111.02L657.55 112.00L654.55 112.00L652.55 111.02L650.55 109.06L649.55 106.12M668.17 102.20L668.17 112.00L668.17 98.28L668.17 102.20L671.17 99.26L673.17 98.28L676.17 98.28L678.17 99.26L679.17 102.20L679.17 112.00" stroke-width="1.4"/>
<path d="M778.12 161.10L779.80 161.10L779.80 166.10L780.36 167.60L781.48 168.10L782.60 168.10M779.80 157.60L779.80 161.10L782.04 161.10M785.53 165.10L795.61 165.10M785.53 162.10L795.61 162.10M798.56 166.10L799.12 167.10L799.68 167.60L801.36 168.10L803.04 168.10L804.72 167.60L805.84 166.60L806.40 165.10L806.40 164.10L805.84 162.60L804.72 161.60L803.04 161.10L801.36 161.10L799.68 161.60L799.12 162.10L799.68 157.60L805.28 157.60M809.02 163.60L809.02 162.10L809.58 159.60L810.70 158.10L812.38 157.60L813.50 157.60L815.18 158.10L816.30 159.60L816.86 162.10L816.86 163.60L816.30 166.10L815.18 167.60L813.50 168.10L812.38 168.10L810.70 167.60L809.58 166.10L809.02 163.60M819.48 163.60L819.48 162.10L820.04 159.60L821.16 158.10L822.84 157.60L823.96 157.60L825.64 158.10L826.76 159.60L827.32 162.10L827.32 163.60L826.76 166.10L825.64 167.60L823.96 168.10L822.84 168.10L821.16 167.60L820.04 166.10L819.48 163.60M835.54 168.10L835.54 164.60L829.94 164.60L835.54 157.60L835.54 164.60L838.34 164.60M840.41 163.60L840.41 162.10L840.97 159.60L842.09 158.10L843.77 157.60L844.89 157.60L846.57 158.10L847.69 159.60L848.25 162.10L848.25 163.60L847.69 166.10L846.57 167.60L844.89 168.10L843.77 168.10L842.09 167.60L840.97 166.10L840.41 163.60M850.87 163.60L850.87 162.10L851.43 159.60L852.55 158.10L854.23 157.60L855.35 157.60L857.03 158.10L858.15 159.60L858.71 162.10L858.71 163.60L858.15 166.10L857.03 167.60L855.35 168.10L854.23 168.10L852.55 167.60L851.43 166.10L850.87 163.60M869.68 166.60L870.24 167.60L871.92 168.10L873.60 168.10L875.28 167.60L875.84 166.60L875.84 166.10L875.28 165.10L874.16 164.60L871.36 164.10L870.24 163.60L869.68 162.60L870.24 161.60L871.92 161.10L873.60 161.10L875.28 161.60L875.84 162.60" stroke-width="1.2"/>
</g>
<g fill="none" stroke="#000" stroke-linecap="round" stroke-linejoin="round">
<path d="M52.63 135.60L51.57 134.82L50.51 133.65L49.45 132.08L48.92 130.13L48.92 128.57L49.45 126.62L50.51 125.05L51.57 123.88L52.63 123.10M57.28 133.10L64.70 126.10M57.28 126.10L64.70 133.10M70.80 125.10L71.86 124.60L73.45 123.10L73.45 133.60M80.16 133.60L80.16 128.10L80.16 123.10L80.16 133.60L87.05 133.60M80.16 128.10L84.40 128.10M80.16 123.10L87.05 123.10M94.83 133.60L94.83 130.10L89.53 130.10L94.83 123.10L94.83 130.10L97.48 130.10M109.61 128.60L109.61 133.60L109.61 126.60L109.61 128.60L111.20 127.10L112.26 126.60L113.85 126.60L114.91 127.10L115.44 128.60L115.44 133.60M115.44 128.60L117.03 127.10L118.09 126.60L119.68 126.60L120.74 127.10L121.27 128.60L121.27 133.60M126.50 135.60L127.56 134.82L128.62 133.65L129.68 132.08L130.21 130.13L130.21 128.57L129.68 126.62L128.62 125.05L127.56 123.88L126.50 123.10" stroke-width="2.0"/>
<path d="M695.33 518.60L694.27 517.82L693.21 516.65L692.15 515.08L691.62 513.13L691.62 511.57L692.15 509.62L693.21 508.05L694.27 506.88L695.33 506.10M699.98 516.10L707.40 509.10M699.98 509.10L707.40 516.10M713.50 508.10L714.56 507.60L716.15 506.10L716.15 516.60M722.86 516.60L722.86 511.10L722.86 506.10L722.86 516.60L729.75 516.60M722.86 511.10L727.10 511.10M722.86 506.10L729.75 506.10M737.53 516.60L737.53 513.10L732.24 513.10L737.53 506.10L737.53 513.10L740.18 513.10M752.31 511.60L752.31 516.60L752.31 509.60L752.31 511.60L753.90 510.10L754.96 509.60L756.55 509.60L757.61 510.10L758.14 511.60L758.14 516.60M758.14 511.60L759.73 510.10L760.79 509.60L762.38 509.60L763.44 510.10L763.97 511.60L763.97 516.60M769.20 518.60L770.26 517.82L771.32 516.65L772.38 515.08L772.91 513.13L772.91 511.57L772.38 509.62L771.32 508.05L770.26 506.88L769.20 506.10" stroke-width="2.0"/>
<path d="M379.65 545.60L384.90 538.60L379.65 530.90M390.15 545.60L384.90 538.60L390.15 530.90M415.39 543.50L413.89 544.90L412.39 545.60L410.14 545.60L408.64 544.90L407.14 543.50L406.39 541.40L406.39 540.00L407.14 537.90L408.64 536.50L410.14 535.80L412.39 535.80L413.89 536.50L415.39 537.90M419.78 541.40L419.78 540.00L420.53 537.90L422.03 536.50L423.53 535.80L425.78 535.80L427.28 536.50L428.78 537.90L429.53 540.00L429.53 541.40L428.78 543.50L427.28 544.90L425.78 545.60L423.53 545.60L422.03 544.90L420.53 543.50L419.78 541.40M433.91 541.40L433.91 540.00L434.66 537.90L436.16 536.50L437.66 535.80L439.91 535.80L441.41 536.50L442.91 537.90L443.66 540.00L443.66 541.40L442.91 543.50L441.41 544.90L439.91 545.60L437.66 545.60L436.16 544.90L434.66 543.50L433.91 541.40M448.79 540.00L448.79 545.60L448.79 535.80L448.79 540.00L449.54 537.90L451.04 536.50L452.54 535.80L454.79 535.80M466.71 543.50L465.21 544.90L463.71 545.60L461.46 545.60L459.96 544.90L458.46 543.50L457.71 541.40L457.71 540.00L458.46 537.90L459.96 536.50L461.46 535.80L463.71 535.80L465.21 536.50L466.71 537.90L466.71 543.50L466.71 545.60L466.71 530.90L466.71 537.90M472.59 545.60L472.59 535.80M471.84 530.90L472.59 531.60L473.34 530.90L472.59 530.20L471.84 530.90M478.56 538.60L478.56 545.60L478.56 535.80L478.56 538.60L480.81 536.50L482.31 535.80L484.56 535.80L486.06 536.50L486.81 538.60L486.81 545.60M500.94 543.50L499.44 544.90L497.94 545.60L495.69 545.60L494.19 544.90L492.69 543.50L491.94 541.40L491.94 540.00L492.69 537.90L494.19 536.50L495.69 535.80L497.94 535.80L499.44 536.50L500.94 537.90L500.94 543.50L500.94 545.60L500.94 535.80L500.94 537.90M505.32 535.80L507.57 535.80L507.57 542.80L508.32 544.90L509.82 545.60L511.32 545.60M507.57 530.90L507.57 535.80L510.57 535.80M515.00 540.00L515.00 541.40L515.75 543.50L517.25 544.90L518.75 545.60L521.00 545.60L522.50 544.90L524.00 543.50M515.00 540.00L515.75 537.90L517.25 536.50L518.75 535.80L521.00 535.80L522.50 536.50L523.25 537.20L524.00 538.60L524.00 540.00L515.00 540.00" stroke-width="1.6"/>
<path d="M98.30 377.45L98.30 387.95L83.60 377.45L83.60 387.95M96.20 352.21L97.60 353.71L98.30 355.21L98.30 357.46L97.60 358.96L96.20 360.46L94.10 361.21L92.70 361.21L90.60 360.46L89.20 358.96L88.50 357.46L88.50 355.21L89.20 353.71L90.60 352.21M94.10 347.82L92.70 347.82L90.60 347.07L89.20 345.57L88.50 344.07L88.50 341.82L89.20 340.32L90.60 338.82L92.70 338.07L94.10 338.07L96.20 338.82L97.60 340.32L98.30 341.82L98.30 344.07L97.60 345.57L96.20 347.07L94.10 347.82M94.10 333.69L92.70 333.69L90.60 332.94L89.20 331.44L88.50 329.94L88.50 327.69L89.20 326.19L90.60 324.69L92.70 323.94L94.10 323.94L96.20 324.69L97.60 326.19L98.30 327.69L98.30 329.94L97.60 331.44L96.20 332.94L94.10 333.69M92.70 318.81L98.30 318.81L88.50 318.81L92.70 318.81L90.60 318.06L89.20 316.56L88.50 315.06L88.50 312.81M96.20 300.89L97.60 302.39L98.30 303.89L98.30 306.14L97.60 307.64L96.20 309.14L94.10 309.89L92.70 309.89L90.60 309.14L89.20 307.64L88.50 306.14L88.50 303.89L89.20 302.39L90.60 300.89L96.20 300.89L98.30 300.89L83.60 300.89L90.60 300.89M98.30 295.01L88.50 295.01M83.60 295.76L84.30 295.01L83.60 294.26L82.90 295.01L83.60 295.76M91.30 289.04L98.30 289.04L88.50 289.04L91.30 289.04L89.20 286.79L88.50 285.29L88.50 283.04L89.20 281.54L91.30 280.79L98.30 280.79M96.20 266.66L97.60 268.16L98.30 269.66L98.30 271.91L97.60 273.41L96.20 274.91L94.10 275.66L92.70 275.66L90.60 274.91L89.20 273.41L88.50 271.91L88.50 269.66L89.20 268.16L90.60 266.66L96.20 266.66L98.30 266.66L88.50 266.66L90.60 266.66M88.50 262.28L88.50 260.03L95.50 260.03L97.60 259.28L98.30 257.78L98.30 256.28M83.60 260.03L88.50 260.03L88.50 257.03M92.70 252.60L94.10 252.60L96.20 251.85L97.60 250.35L98.30 248.85L98.30 246.60L97.60 245.10L96.20 243.60M92.70 252.60L90.60 251.85L89.20 250.35L88.50 248.85L88.50 246.60L89.20 245.10L89.90 244.35L91.30 243.60L92.70 243.60L92.70 252.60" stroke-width="1.6"/>
<path d="M125.16 398.68L117.04 398.68L122.84 393.68L124.58 391.18L124.58 390.18L124.00 389.18L123.42 388.68L122.26 388.18L119.94 388.18L118.78 388.68L118.20 389.18L117.62 390.18L117.62 390.68" stroke-width="2.0"/>
<path d="M122.84 319.26L122.84 315.76L117.04 315.76L122.84 308.76L122.84 315.76L125.74 315.76" stroke-width="2.0"/>
<path d="M117.62 236.34L117.62 233.84L118.20 231.34L119.36 229.84L121.10 229.34L122.26 229.34L124.00 229.84L124.58 230.84M117.62 236.34L118.20 238.34L119.36 239.34L121.10 239.84L121.68 239.84L123.42 239.34L124.58 238.34L125.16 236.84L125.16 236.34L124.58 234.84L123.42 233.84L121.68 233.34L121.10 233.34L119.36 233.84L118.20 234.84L117.62 236.34" stroke-width="2.0"/>
<path d="M195.52 484.96L196.66 484.44L198.37 482.88L198.37 493.80" stroke-width="2.0"/>
<path d="M265.29 493.80L257.31 493.80L263.01 488.60L264.72 486.00L264.72 484.96L264.15 483.92L263.58 483.40L262.44 482.88L260.16 482.88L259.02 483.40L258.45 483.92L257.88 484.96L257.88 485.48" stroke-width="2.0"/>
<path d="M320.81 491.72L321.38 492.76L321.95 493.28L323.66 493.80L325.37 493.80L327.08 493.28L328.22 492.24L328.79 490.68L328.79 489.64L328.22 488.08L327.65 487.56L326.51 487.04L324.80 487.04L328.22 482.88L321.95 482.88" stroke-width="2.0"/>
<path d="M390.01 493.80L390.01 490.16L384.31 490.16L390.01 482.88L390.01 490.16L392.86 490.16" stroke-width="2.0"/>
<path d="M447.81 491.72L448.38 492.76L448.95 493.28L450.66 493.80L452.37 493.80L454.08 493.28L455.22 492.24L455.79 490.68L455.79 489.64L455.22 488.08L454.08 487.04L452.37 486.52L450.66 486.52L448.95 487.04L448.38 487.56L448.95 482.88L454.65 482.88" stroke-width="2.0"/>
<path d="M511.88 490.16L511.88 487.56L512.45 484.96L513.59 483.40L515.30 482.88L516.44 482.88L518.15 483.40L518.72 484.44M511.88 490.16L512.45 492.24L513.59 493.28L515.30 493.80L515.87 493.80L517.58 493.28L518.72 492.24L519.29 490.68L519.29 490.16L518.72 488.60L517.58 487.56L515.87 487.04L515.30 487.04L513.59 487.56L512.45 488.60L511.88 490.16" stroke-width="2.0"/>
<path d="M574.81 482.88L582.79 482.88L577.09 493.80" stroke-width="2.0"/>
<path d="M638.31 491.72L638.31 490.16L638.88 489.12L640.02 488.08L642.30 487.56L640.59 487.04L639.45 486.52L638.88 485.48L638.88 484.44L639.45 483.40L641.16 482.88L643.44 482.88L645.15 483.40L645.72 484.44L645.72 485.48L645.15 486.52L644.01 487.04L642.30 487.56L644.58 488.08L645.72 489.12L646.29 490.16L646.29 491.72L645.72 492.76L645.15 493.28L643.44 493.80L641.16 493.80L639.45 493.28L638.88 492.76L638.31 491.72" stroke-width="2.0"/>
<path d="M702.38 492.24L702.95 493.28L704.66 493.80L705.80 493.80L707.51 493.28L708.65 491.72L709.22 489.12L709.22 486.52L708.65 488.08L707.51 489.12L705.80 489.64L705.23 489.64L703.52 489.12L702.38 488.08L701.81 486.52L701.81 486.00L702.38 484.44L703.52 483.40L705.23 482.88L705.80 482.88L707.51 483.40L708.65 484.44L709.22 486.52" stroke-width="2.0"/>
<path d="M811.62 269.77L811.62 268.36L812.16 266.01L813.24 264.60L814.86 264.13L815.94 264.13L817.56 264.60L818.64 266.01L819.18 268.36L819.18 269.77L818.64 272.12L817.56 273.53L815.94 274.00L814.86 274.00L813.24 273.53L812.16 272.12L811.62 269.77M822.18 273.53L822.72 274.00L823.26 273.53L822.72 273.06L822.18 273.53M826.66 272.12L827.20 273.06L827.74 273.53L829.36 274.00L830.98 274.00L832.60 273.53L833.68 272.59L834.22 271.18L834.22 270.24L833.68 268.83L833.14 268.36L832.06 267.89L830.44 267.89L833.68 264.13L827.74 264.13M844.24 274.00L836.68 274.00L842.08 269.30L843.70 266.95L843.70 266.01L843.16 265.07L842.62 264.60L841.54 264.13L839.38 264.13L838.30 264.60L837.76 265.07L837.22 266.01L837.22 266.48" stroke-width="2.0"/>
<path d="M811.62 314.97L811.62 313.56L812.16 311.21L813.24 309.80L814.86 309.33L815.94 309.33L817.56 309.80L818.64 311.21L819.18 313.56L819.18 314.97L818.64 317.32L817.56 318.73L815.94 319.20L814.86 319.20L813.24 318.73L812.16 317.32L811.62 314.97M822.18 318.73L822.72 319.20L823.26 318.73L822.72 318.26L822.18 318.73M828.28 311.21L829.36 310.74L830.98 309.33L830.98 319.20M837.22 315.91L837.22 313.56L837.76 311.21L838.84 309.80L840.46 309.33L841.54 309.33L843.16 309.80L843.70 310.74M837.22 315.91L837.76 317.79L838.84 318.73L840.46 319.20L841.00 319.20L842.62 318.73L843.70 317.79L844.24 316.38L844.24 315.91L843.70 314.50L842.62 313.56L841.00 313.09L840.46 313.09L838.84 313.56L837.76 314.50L837.22 315.91" stroke-width="2.0"/>
<path d="M811.62 360.17L811.62 358.76L812.16 356.41L813.24 355.00L814.86 354.53L815.94 354.53L817.56 355.00L818.64 356.41L819.18 358.76L819.18 360.17L818.64 362.52L817.56 363.93L815.94 364.40L814.86 364.40L813.24 363.93L812.16 362.52L811.62 360.17" stroke-width="2.0"/>
<path d="M812.16 405.37L821.88 405.37M824.64 405.37L824.64 403.96L825.18 401.61L826.26 400.20L827.88 399.73L828.96 399.73L830.58 400.20L831.66 401.61L832.20 403.96L832.20 405.37L831.66 407.72L830.58 409.13L828.96 409.60L827.88 409.60L826.26 409.13L825.18 407.72L824.64 405.37M835.20 409.13L835.74 409.60L836.28 409.13L835.74 408.66L835.20 409.13M841.30 401.61L842.38 401.14L844.00 399.73L844.00 409.60M850.24 406.31L850.24 403.96L850.78 401.61L851.86 400.20L853.48 399.73L854.56 399.73L856.18 400.20L856.72 401.14M850.24 406.31L850.78 408.19L851.86 409.13L853.48 409.60L854.02 409.60L855.64 409.13L856.72 408.19L857.26 406.78L857.26 406.31L856.72 404.90L855.64 403.96L854.02 403.49L853.48 403.49L851.86 403.96L850.78 404.90L850.24 406.31" stroke-width="2.0"/>
<path d="M812.16 450.57L821.88 450.57M824.64 450.57L824.64 449.16L825.18 446.81L826.26 445.40L827.88 444.93L828.96 444.93L830.58 445.40L831.66 446.81L832.20 449.16L832.20 450.57L831.66 452.92L830.58 454.33L828.96 454.80L827.88 454.80L826.26 454.33L825.18 452.92L824.64 450.57M835.20 454.33L835.74 454.80L836.28 454.33L835.74 453.86L835.20 454.33M839.68 452.92L840.22 453.86L840.76 454.33L842.38 454.80L844.00 454.80L845.62 454.33L846.70 453.39L847.24 451.98L847.24 451.04L846.70 449.63L846.16 449.16L845.08 448.69L843.46 448.69L846.70 444.93L840.76 444.93M857.26 454.80L849.70 454.80L855.10 450.10L856.72 447.75L856.72 446.81L856.18 445.87L855.64 445.40L854.56 444.93L852.40 444.93L851.32 445.40L850.78 445.87L850.24 446.81L850.24 447.28" stroke-width="2.0"/>
</g>
</svg></body></html>
